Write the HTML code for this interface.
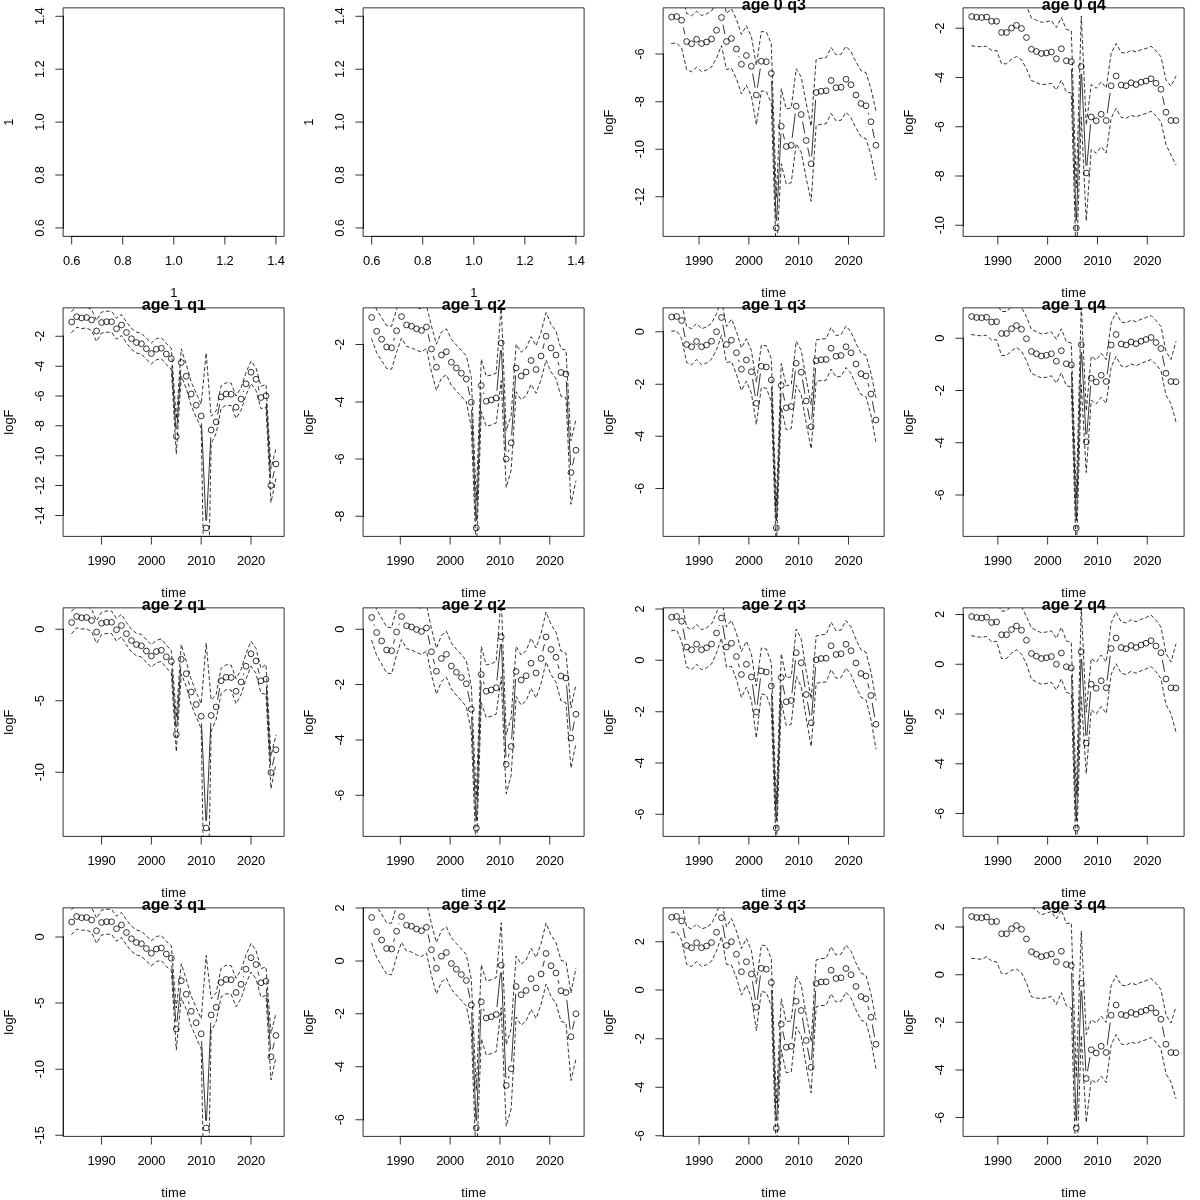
<!DOCTYPE html>
<html><head><meta charset="utf-8"><title>logF by age and quarter</title>
<style>
html,body{margin:0;padding:0;background:#fff;}
body{width:1200px;height:1200px;overflow:hidden;}
svg{display:block;}
text{font-family:"Liberation Sans",Arial,Helvetica,sans-serif;font-size:12.9px;fill:#000;}
.t{font-weight:bold;font-size:16px;}
.k{letter-spacing:-0.17px;}
.x{letter-spacing:0.16px;}
.ln{stroke:#000;stroke-width:0.8;fill:none;stroke-linecap:round;stroke-linejoin:round;}
.da{stroke:#000;stroke-width:0.8;fill:none;stroke-linecap:round;stroke-linejoin:round;stroke-dasharray:3.1 3.1;}
.pt{stroke:#000;stroke-width:0.8;fill:none;}
</style></head><body>
<svg width="1200" height="1200" viewBox="0 0 1200 1200">

<defs><clipPath id="pc"><rect x="63.5" y="7.85" width="220.6" height="228.55"/></clipPath>
<clipPath id="fc"><rect x="0" y="0" width="300" height="300"/></clipPath></defs>

<g transform="translate(0 0)">
<rect class="ln" x="63.5" y="7.85" width="220.6" height="228.55"/>
<path class="ln" d="M71.67 236.4H275.93M71.67 236.4v7.75M122.74 236.4v7.75M173.8 236.4v7.75M224.86 236.4v7.75M275.93 236.4v7.75M63.5 16.31V227.94M63.5 227.94h-7.75M63.5 175.03h-7.75M63.5 122.12h-7.75M63.5 69.22h-7.75M63.5 16.31h-7.75"/>
<text class="k" x="71.67" y="264.8" text-anchor="middle">0.6</text>
<text class="k" x="122.74" y="264.8" text-anchor="middle">0.8</text>
<text class="k" x="173.8" y="264.8" text-anchor="middle">1.0</text>
<text class="k" x="224.86" y="264.8" text-anchor="middle">1.2</text>
<text class="k" x="275.93" y="264.8" text-anchor="middle">1.4</text>
<text class="k" transform="translate(44.1 227.94) rotate(-90)" text-anchor="middle">0.6</text>
<text class="k" transform="translate(44.1 175.03) rotate(-90)" text-anchor="middle">0.8</text>
<text class="k" transform="translate(44.1 122.12) rotate(-90)" text-anchor="middle">1.0</text>
<text class="k" transform="translate(44.1 69.22) rotate(-90)" text-anchor="middle">1.2</text>
<text class="k" transform="translate(44.1 16.31) rotate(-90)" text-anchor="middle">1.4</text>
<text class="x" x="173.8" y="296.7" text-anchor="middle">1</text>
<text transform="translate(13 122.12) rotate(-90)" text-anchor="middle">1</text>
</g>
<g transform="translate(300 0)">
<rect class="ln" x="63.5" y="7.85" width="220.6" height="228.55"/>
<path class="ln" d="M71.67 236.4H275.93M71.67 236.4v7.75M122.74 236.4v7.75M173.8 236.4v7.75M224.86 236.4v7.75M275.93 236.4v7.75M63.5 16.31V227.94M63.5 227.94h-7.75M63.5 175.03h-7.75M63.5 122.12h-7.75M63.5 69.22h-7.75M63.5 16.31h-7.75"/>
<text class="k" x="71.67" y="264.8" text-anchor="middle">0.6</text>
<text class="k" x="122.74" y="264.8" text-anchor="middle">0.8</text>
<text class="k" x="173.8" y="264.8" text-anchor="middle">1.0</text>
<text class="k" x="224.86" y="264.8" text-anchor="middle">1.2</text>
<text class="k" x="275.93" y="264.8" text-anchor="middle">1.4</text>
<text class="k" transform="translate(44.1 227.94) rotate(-90)" text-anchor="middle">0.6</text>
<text class="k" transform="translate(44.1 175.03) rotate(-90)" text-anchor="middle">0.8</text>
<text class="k" transform="translate(44.1 122.12) rotate(-90)" text-anchor="middle">1.0</text>
<text class="k" transform="translate(44.1 69.22) rotate(-90)" text-anchor="middle">1.2</text>
<text class="k" transform="translate(44.1 16.31) rotate(-90)" text-anchor="middle">1.4</text>
<text class="x" x="173.8" y="296.7" text-anchor="middle">1</text>
<text transform="translate(13 122.12) rotate(-90)" text-anchor="middle">1</text>
</g>
<g transform="translate(600 0)">
<rect class="ln" x="63.5" y="7.85" width="220.6" height="228.55"/>
<path class="ln" d="M99.07 236.4H248.53M99.07 236.4v7.75M148.89 236.4v7.75M198.71 236.4v7.75M248.53 236.4v7.75M63.5 54V196.75M63.5 54h-7.75M63.5 101.75h-7.75M63.5 149.25h-7.75M63.5 196.75h-7.75"/>
<text class="k" x="99.07" y="264.8" text-anchor="middle">1990</text>
<text class="k" x="148.89" y="264.8" text-anchor="middle">2000</text>
<text class="k" x="198.71" y="264.8" text-anchor="middle">2010</text>
<text class="k" x="248.53" y="264.8" text-anchor="middle">2020</text>
<text class="k" transform="translate(44.1 54) rotate(-90)" text-anchor="middle">-6</text>
<text class="k" transform="translate(44.1 101.75) rotate(-90)" text-anchor="middle">-8</text>
<text class="k" transform="translate(44.1 149.25) rotate(-90)" text-anchor="middle">-10</text>
<text class="k" transform="translate(44.1 196.75) rotate(-90)" text-anchor="middle">-12</text>
<text class="x" x="173.8" y="296.7" text-anchor="middle">time</text>
<text transform="translate(13 122.12) rotate(-90)" text-anchor="middle">logF</text>
<text class="t" x="173.8" y="9.9" text-anchor="middle" clip-path="url(#fc)">age 0 q3</text>
<g clip-path="url(#pc)">
<path class="ln" d="M83.4 27.8L84.85 33.95M123.06 25.09L124.9 33.91M138.84 56.37L139.01 56.88M152.7 73.89L155.04 87.36M157.49 87.33L160.21 68.92M171.56 81.25L176.04 220.25M176.67 220.26L180.89 133.99M183.12 133.78L184.4 138.97M192.22 137.56L195.24 113.94M202.66 122.11L204.72 132.89M207.81 148.08L209.54 156.17M211.71 156.02L215.61 100.23M268.27 113.15L268.64 114.35M272.55 129.33L274.32 137.67"/>
<polyline class="da" points="71.67,43.5 76.65,43 81.63,48.25 86.62,69.5 91.6,71.75 96.58,67.25 101.56,71.5 106.54,70 111.53,67 116.51,58.25 121.49,45.5 126.47,69.5 131.45,68.25 136.44,78.75 141.42,94 146.4,85.25 151.38,96 156.36,124.75 161.35,91 166.33,91.5 171.31,103.25 176.29,258 181.27,163.75 186.25,184 191.24,182.75 196.22,143.75 201.2,152 206.18,178 211.16,201.25 216.15,125.5 221.13,124.25 226.11,123.75 231.09,113.5 236.07,120.75 241.06,120.25 246.04,112.25 251.02,117.75 256,128 260.98,136.5 265.97,138.75 270.95,154.75 275.93,179.75"/>
<polyline class="da" points="71.67,-9.5 76.65,-10 81.63,-7.75 86.62,13.5 91.6,15.75 96.58,11.25 101.56,15.5 106.54,14 111.53,11 116.51,2.25 121.49,-10.5 126.47,13.5 131.45,8.75 136.44,19.25 141.42,34.5 146.4,25.75 151.38,36.5 156.36,65.25 161.35,31.5 166.33,32 171.31,43.75 176.29,198 181.27,88.75 186.25,109 191.24,107.75 196.22,68.75 201.2,77 206.18,103 211.16,126.25 216.15,59.5 221.13,58.25 226.11,57.75 231.09,47.5 236.07,54.75 241.06,54.25 246.04,46.25 251.02,51.75 256,62 260.98,70.5 265.97,72.75 270.95,88.75 275.93,110.75"/>
<circle class="pt" cx="71.67" cy="17" r="2.9"/>
<circle class="pt" cx="76.65" cy="16.5" r="2.9"/>
<circle class="pt" cx="81.63" cy="20.25" r="2.9"/>
<circle class="pt" cx="86.62" cy="41.5" r="2.9"/>
<circle class="pt" cx="91.6" cy="43.75" r="2.9"/>
<circle class="pt" cx="96.58" cy="39.25" r="2.9"/>
<circle class="pt" cx="101.56" cy="43.5" r="2.9"/>
<circle class="pt" cx="106.54" cy="42" r="2.9"/>
<circle class="pt" cx="111.53" cy="39" r="2.9"/>
<circle class="pt" cx="116.51" cy="30.25" r="2.9"/>
<circle class="pt" cx="121.49" cy="17.5" r="2.9"/>
<circle class="pt" cx="126.47" cy="41.5" r="2.9"/>
<circle class="pt" cx="131.45" cy="38.5" r="2.9"/>
<circle class="pt" cx="136.44" cy="49" r="2.9"/>
<circle class="pt" cx="141.42" cy="64.25" r="2.9"/>
<circle class="pt" cx="146.4" cy="55.5" r="2.9"/>
<circle class="pt" cx="151.38" cy="66.25" r="2.9"/>
<circle class="pt" cx="156.36" cy="95" r="2.9"/>
<circle class="pt" cx="161.35" cy="61.25" r="2.9"/>
<circle class="pt" cx="166.33" cy="61.75" r="2.9"/>
<circle class="pt" cx="171.31" cy="73.5" r="2.9"/>
<circle class="pt" cx="176.29" cy="228" r="2.9"/>
<circle class="pt" cx="181.27" cy="126.25" r="2.9"/>
<circle class="pt" cx="186.25" cy="146.5" r="2.9"/>
<circle class="pt" cx="191.24" cy="145.25" r="2.9"/>
<circle class="pt" cx="196.22" cy="106.25" r="2.9"/>
<circle class="pt" cx="201.2" cy="114.5" r="2.9"/>
<circle class="pt" cx="206.18" cy="140.5" r="2.9"/>
<circle class="pt" cx="211.16" cy="163.75" r="2.9"/>
<circle class="pt" cx="216.15" cy="92.5" r="2.9"/>
<circle class="pt" cx="221.13" cy="91.25" r="2.9"/>
<circle class="pt" cx="226.11" cy="90.75" r="2.9"/>
<circle class="pt" cx="231.09" cy="80.5" r="2.9"/>
<circle class="pt" cx="236.07" cy="87.75" r="2.9"/>
<circle class="pt" cx="241.06" cy="87.25" r="2.9"/>
<circle class="pt" cx="246.04" cy="79.25" r="2.9"/>
<circle class="pt" cx="251.02" cy="84.75" r="2.9"/>
<circle class="pt" cx="256" cy="95" r="2.9"/>
<circle class="pt" cx="260.98" cy="103.5" r="2.9"/>
<circle class="pt" cx="265.97" cy="105.75" r="2.9"/>
<circle class="pt" cx="270.95" cy="121.75" r="2.9"/>
<circle class="pt" cx="275.93" cy="145.25" r="2.9"/>
</g>
</g>
<g transform="translate(900 0)">
<rect class="ln" x="63.5" y="7.85" width="220.6" height="228.55"/>
<path class="ln" d="M97.83 236.4H247.28M97.83 236.4v7.75M147.64 236.4v7.75M197.46 236.4v7.75M247.28 236.4v7.75M63.5 28.25V225.25M63.5 28.25h-7.75M63.5 77.5h-7.75M63.5 126.75h-7.75M63.5 176h-7.75M63.5 225.25h-7.75"/>
<text class="k" x="97.83" y="264.8" text-anchor="middle">1990</text>
<text class="k" x="147.64" y="264.8" text-anchor="middle">2000</text>
<text class="k" x="197.46" y="264.8" text-anchor="middle">2010</text>
<text class="k" x="247.28" y="264.8" text-anchor="middle">2020</text>
<text class="k" transform="translate(44.1 28.25) rotate(-90)" text-anchor="middle">-2</text>
<text class="k" transform="translate(44.1 77.5) rotate(-90)" text-anchor="middle">-4</text>
<text class="k" transform="translate(44.1 126.75) rotate(-90)" text-anchor="middle">-6</text>
<text class="k" transform="translate(44.1 176) rotate(-90)" text-anchor="middle">-8</text>
<text class="k" transform="translate(44.1 225.25) rotate(-90)" text-anchor="middle">-10</text>
<text class="x" x="173.8" y="296.7" text-anchor="middle">time</text>
<text transform="translate(13 122.12) rotate(-90)" text-anchor="middle">logF</text>
<text class="t" x="173.8" y="9.9" text-anchor="middle" clip-path="url(#fc)">age 0 q4</text>
<g clip-path="url(#pc)">
<path class="ln" d="M171.54 69.5L176.06 220.25M176.53 220.25L181.03 74.25M181.64 74.24L185.89 165.26M186.94 165.28L190.55 124.72M207.28 112.83L210.06 93.42M262.62 96.82L264.33 104.68"/>
<polyline class="da" points="71.67,45.75 76.65,46.5 81.63,46.75 86.62,46.25 91.6,50.5 96.58,50.5 101.56,63.75 106.54,63.75 111.53,59.25 116.51,56.5 121.49,59.75 126.47,68.75 131.45,80.5 136.44,82.75 141.42,84.75 146.4,84.25 151.38,83.25 156.36,90 161.35,80 166.33,92 171.31,93 176.29,268 181.27,117 186.25,221 191.24,149.5 196.22,153.25 201.2,146.75 206.18,153 211.16,118.25 216.15,108.5 221.13,117.5 226.11,118.25 231.09,115.25 236.07,117 241.06,114.75 246.04,113.5 251.02,111.25 256,115.75 260.98,121.75 265.97,144.75 270.95,154.75 275.93,164.75"/>
<polyline class="da" points="71.67,-12.75 76.65,-12 81.63,-11.75 86.62,-12.25 91.6,-8 96.58,-8 101.56,1.25 106.54,1.25 111.53,-3.25 116.51,-6 121.49,-2.75 126.47,6.25 131.45,18 136.44,20.25 141.42,22.25 146.4,21.75 151.38,20.75 156.36,27.5 161.35,17.5 166.33,29.5 171.31,30.5 176.29,188 181.27,16 186.25,125 191.24,84.5 196.22,88.25 201.2,81.75 206.18,88 211.16,53.25 216.15,43.5 221.13,52.5 226.11,53.25 231.09,50.25 236.07,52 241.06,49.75 246.04,48.5 251.02,46.25 256,50.75 260.98,56.75 265.97,79.75 270.95,86.25 275.93,76.25"/>
<circle class="pt" cx="71.67" cy="16.5" r="2.9"/>
<circle class="pt" cx="76.65" cy="17.25" r="2.9"/>
<circle class="pt" cx="81.63" cy="17.5" r="2.9"/>
<circle class="pt" cx="86.62" cy="17" r="2.9"/>
<circle class="pt" cx="91.6" cy="21.25" r="2.9"/>
<circle class="pt" cx="96.58" cy="21.25" r="2.9"/>
<circle class="pt" cx="101.56" cy="32.5" r="2.9"/>
<circle class="pt" cx="106.54" cy="32.5" r="2.9"/>
<circle class="pt" cx="111.53" cy="28" r="2.9"/>
<circle class="pt" cx="116.51" cy="25.25" r="2.9"/>
<circle class="pt" cx="121.49" cy="28.5" r="2.9"/>
<circle class="pt" cx="126.47" cy="37.5" r="2.9"/>
<circle class="pt" cx="131.45" cy="49.25" r="2.9"/>
<circle class="pt" cx="136.44" cy="51.5" r="2.9"/>
<circle class="pt" cx="141.42" cy="53.5" r="2.9"/>
<circle class="pt" cx="146.4" cy="53" r="2.9"/>
<circle class="pt" cx="151.38" cy="52" r="2.9"/>
<circle class="pt" cx="156.36" cy="58.75" r="2.9"/>
<circle class="pt" cx="161.35" cy="48.75" r="2.9"/>
<circle class="pt" cx="166.33" cy="60.75" r="2.9"/>
<circle class="pt" cx="171.31" cy="61.75" r="2.9"/>
<circle class="pt" cx="176.29" cy="228" r="2.9"/>
<circle class="pt" cx="181.27" cy="66.5" r="2.9"/>
<circle class="pt" cx="186.25" cy="173" r="2.9"/>
<circle class="pt" cx="191.24" cy="117" r="2.9"/>
<circle class="pt" cx="196.22" cy="120.75" r="2.9"/>
<circle class="pt" cx="201.2" cy="114.25" r="2.9"/>
<circle class="pt" cx="206.18" cy="120.5" r="2.9"/>
<circle class="pt" cx="211.16" cy="85.75" r="2.9"/>
<circle class="pt" cx="216.15" cy="76" r="2.9"/>
<circle class="pt" cx="221.13" cy="85" r="2.9"/>
<circle class="pt" cx="226.11" cy="85.75" r="2.9"/>
<circle class="pt" cx="231.09" cy="82.75" r="2.9"/>
<circle class="pt" cx="236.07" cy="84.5" r="2.9"/>
<circle class="pt" cx="241.06" cy="82.25" r="2.9"/>
<circle class="pt" cx="246.04" cy="81" r="2.9"/>
<circle class="pt" cx="251.02" cy="78.75" r="2.9"/>
<circle class="pt" cx="256" cy="83.25" r="2.9"/>
<circle class="pt" cx="260.98" cy="89.25" r="2.9"/>
<circle class="pt" cx="265.97" cy="112.25" r="2.9"/>
<circle class="pt" cx="270.95" cy="120.5" r="2.9"/>
<circle class="pt" cx="275.93" cy="120.5" r="2.9"/>
</g>
</g>
<g transform="translate(0 300)">
<rect class="ln" x="63.5" y="7.85" width="220.6" height="228.55"/>
<path class="ln" d="M101.56 236.4H251.02M101.56 236.4v7.75M151.38 236.4v7.75M201.2 236.4v7.75M251.02 236.4v7.75M63.5 36.25V215.5M63.5 36.25h-7.75M63.5 66.25h-7.75M63.5 96h-7.75M63.5 125.75h-7.75M63.5 155.75h-7.75M63.5 185.5h-7.75M63.5 215.5h-7.75"/>
<text class="k" x="101.56" y="264.8" text-anchor="middle">1990</text>
<text class="k" x="151.38" y="264.8" text-anchor="middle">2000</text>
<text class="k" x="201.2" y="264.8" text-anchor="middle">2010</text>
<text class="k" x="251.02" y="264.8" text-anchor="middle">2020</text>
<text class="k" transform="translate(44.1 36.25) rotate(-90)" text-anchor="middle">-2</text>
<text class="k" transform="translate(44.1 66.25) rotate(-90)" text-anchor="middle">-4</text>
<text class="k" transform="translate(44.1 96) rotate(-90)" text-anchor="middle">-6</text>
<text class="k" transform="translate(44.1 125.75) rotate(-90)" text-anchor="middle">-8</text>
<text class="k" transform="translate(44.1 155.75) rotate(-90)" text-anchor="middle">-10</text>
<text class="k" transform="translate(44.1 185.5) rotate(-90)" text-anchor="middle">-12</text>
<text class="k" transform="translate(44.1 215.5) rotate(-90)" text-anchor="middle">-14</text>
<text class="x" x="173.8" y="296.7" text-anchor="middle">time</text>
<text transform="translate(13 122.12) rotate(-90)" text-anchor="middle">logF</text>
<text class="t" x="173.8" y="9.9" text-anchor="middle" clip-path="url(#fc)">age 1 q1</text>
<g clip-path="url(#pc)">
<path class="ln" d="M171.8 66.48L175.8 128.77M176.81 128.77L180.75 70.23M188.35 83.71L189.14 86.54M201.55 123.74L205.84 220.26M206.58 220.26L210.77 137.74M217.66 114.4L219.61 104.6M243.46 91.63L243.63 91.12M258.04 86.73L258.94 90.02M266.4 103.49L270.52 177.76M272.7 177.95L274.18 171.55"/>
<polyline class="da" points="71.67,32.5 76.65,27.25 81.63,28.5 86.62,28 91.6,30.5 96.58,41.5 101.56,33 106.54,32.25 111.53,32.25 116.51,39.25 121.49,35.5 126.47,43 131.45,49.25 136.44,53 141.42,54.25 146.4,59.25 151.38,64 156.36,59.75 161.35,58.75 166.33,64.5 171.31,69.25 176.29,154 181.27,76.25 186.25,88.25 191.24,106 196.22,117.25 201.2,128 206.18,403 211.16,143.75 216.15,133.25 221.13,108.25 226.11,105.25 231.09,105.5 236.07,118.5 241.06,110.25 246.04,95 251.02,83.5 256,90.5 260.98,108.75 265.97,107 270.95,202.5 275.93,179"/>
<polyline class="da" points="71.67,11.5 76.65,6.25 81.63,7.5 86.62,7 91.6,9.5 96.58,20.5 101.56,12 106.54,11.25 111.53,11.25 116.51,18.25 121.49,14.5 126.47,22 131.45,28.25 136.44,32 141.42,33.25 146.4,38.25 151.38,43 156.36,38.75 161.35,37.75 166.33,43.5 171.31,48.25 176.29,119 181.27,48.75 186.25,64.25 191.24,82 196.22,93.25 201.2,104 206.18,53 211.16,116.25 216.15,110.75 221.13,85.75 226.11,82.75 231.09,83 236.07,96 241.06,87.75 246.04,72.5 251.02,61 256,68 260.98,86.25 265.97,84.5 270.95,168.5 275.93,149"/>
<circle class="pt" cx="71.67" cy="22" r="2.9"/>
<circle class="pt" cx="76.65" cy="16.75" r="2.9"/>
<circle class="pt" cx="81.63" cy="18" r="2.9"/>
<circle class="pt" cx="86.62" cy="17.5" r="2.9"/>
<circle class="pt" cx="91.6" cy="20" r="2.9"/>
<circle class="pt" cx="96.58" cy="31" r="2.9"/>
<circle class="pt" cx="101.56" cy="22.5" r="2.9"/>
<circle class="pt" cx="106.54" cy="21.75" r="2.9"/>
<circle class="pt" cx="111.53" cy="21.75" r="2.9"/>
<circle class="pt" cx="116.51" cy="28.75" r="2.9"/>
<circle class="pt" cx="121.49" cy="25" r="2.9"/>
<circle class="pt" cx="126.47" cy="32.5" r="2.9"/>
<circle class="pt" cx="131.45" cy="38.75" r="2.9"/>
<circle class="pt" cx="136.44" cy="42.5" r="2.9"/>
<circle class="pt" cx="141.42" cy="43.75" r="2.9"/>
<circle class="pt" cx="146.4" cy="48.75" r="2.9"/>
<circle class="pt" cx="151.38" cy="53.5" r="2.9"/>
<circle class="pt" cx="156.36" cy="49.25" r="2.9"/>
<circle class="pt" cx="161.35" cy="48.25" r="2.9"/>
<circle class="pt" cx="166.33" cy="54" r="2.9"/>
<circle class="pt" cx="171.31" cy="58.75" r="2.9"/>
<circle class="pt" cx="176.29" cy="136.5" r="2.9"/>
<circle class="pt" cx="181.27" cy="62.5" r="2.9"/>
<circle class="pt" cx="186.25" cy="76.25" r="2.9"/>
<circle class="pt" cx="191.24" cy="94" r="2.9"/>
<circle class="pt" cx="196.22" cy="105.25" r="2.9"/>
<circle class="pt" cx="201.2" cy="116" r="2.9"/>
<circle class="pt" cx="206.18" cy="228" r="2.9"/>
<circle class="pt" cx="211.16" cy="130" r="2.9"/>
<circle class="pt" cx="216.15" cy="122" r="2.9"/>
<circle class="pt" cx="221.13" cy="97" r="2.9"/>
<circle class="pt" cx="226.11" cy="94" r="2.9"/>
<circle class="pt" cx="231.09" cy="94.25" r="2.9"/>
<circle class="pt" cx="236.07" cy="107.25" r="2.9"/>
<circle class="pt" cx="241.06" cy="99" r="2.9"/>
<circle class="pt" cx="246.04" cy="83.75" r="2.9"/>
<circle class="pt" cx="251.02" cy="72.25" r="2.9"/>
<circle class="pt" cx="256" cy="79.25" r="2.9"/>
<circle class="pt" cx="260.98" cy="97.5" r="2.9"/>
<circle class="pt" cx="265.97" cy="95.75" r="2.9"/>
<circle class="pt" cx="270.95" cy="185.5" r="2.9"/>
<circle class="pt" cx="275.93" cy="164" r="2.9"/>
</g>
</g>
<g transform="translate(300 300)">
<rect class="ln" x="63.5" y="7.85" width="220.6" height="228.55"/>
<path class="ln" d="M100.32 236.4H249.77M100.32 236.4v7.75M150.14 236.4v7.75M199.96 236.4v7.75M249.77 236.4v7.75M63.5 44.5V216.25M63.5 44.5h-7.75M63.5 102h-7.75M63.5 159h-7.75M63.5 216.25h-7.75"/>
<text class="k" x="100.32" y="264.8" text-anchor="middle">1990</text>
<text class="k" x="150.14" y="264.8" text-anchor="middle">2000</text>
<text class="k" x="199.96" y="264.8" text-anchor="middle">2010</text>
<text class="k" x="249.77" y="264.8" text-anchor="middle">2020</text>
<text class="k" transform="translate(44.1 44.5) rotate(-90)" text-anchor="middle">-2</text>
<text class="k" transform="translate(44.1 102) rotate(-90)" text-anchor="middle">-4</text>
<text class="k" transform="translate(44.1 159) rotate(-90)" text-anchor="middle">-6</text>
<text class="k" transform="translate(44.1 216.25) rotate(-90)" text-anchor="middle">-8</text>
<text class="x" x="173.8" y="296.7" text-anchor="middle">time</text>
<text transform="translate(13 122.12) rotate(-90)" text-anchor="middle">logF</text>
<text class="t" x="173.8" y="9.9" text-anchor="middle" clip-path="url(#fc)">age 1 q2</text>
<g clip-path="url(#pc)">
<path class="ln" d="M93.78 40.31L94.4 38.19M128.18 34.56L129.74 41.44M133.49 56.48L134.39 59.77M167.95 86.58L169.69 94.67M171.62 109.99L175.98 220.26M176.56 220.25L181 93.25M183.61 92.89L183.92 93.86M196.92 90.28L200.5 50.72M201.53 50.74L205.85 151.26M208.45 151.59L208.89 150.16M211.68 135.02L215.63 75.73M242.95 48.49L244.14 43.76M258.12 62.45L258.86 65.05M266.36 81.74L270.56 164.76M272.64 164.94L274.24 157.81"/>
<polyline class="da" points="71.67,39 76.65,52.75 81.63,60.75 86.62,68.5 91.6,69.25 96.58,52.25 101.56,38 106.54,46.5 111.53,47.75 116.51,50.25 121.49,52 126.47,48.5 131.45,72 136.44,90.25 141.42,78 146.4,74.75 151.38,85.25 156.36,91 161.35,96.25 166.33,102 171.31,127.25 176.29,255.5 181.27,111.75 186.25,126.25 191.24,125 196.22,123 201.2,80.5 206.18,187.5 211.16,170 216.15,91.75 221.13,99.75 226.11,95.75 231.09,84.25 236.07,93.25 241.06,79.75 246.04,60 251.02,71.75 256,78.75 260.98,96.25 265.97,97.75 270.95,204.25 275.93,181"/>
<polyline class="da" points="71.67,-4 76.65,9.75 81.63,17.75 86.62,25.5 91.6,26.25 96.58,9.25 101.56,-5 106.54,3.5 111.53,4.75 116.51,7.25 121.49,9 126.47,5.5 131.45,26 136.44,44.25 141.42,32 146.4,28.75 151.38,39.25 156.36,45 161.35,50.25 166.33,56 171.31,77.25 176.29,200.5 181.27,59.25 186.25,76.25 191.24,75 196.22,73 201.2,5.5 206.18,130.5 211.16,115.5 216.15,44.25 221.13,52.25 226.11,48.25 231.09,36.75 236.07,45.75 241.06,32.25 246.04,12.5 251.02,24.25 256,31.25 260.98,48.75 265.97,50.25 270.95,140.75 275.93,119.5"/>
<circle class="pt" cx="71.67" cy="17.5" r="2.9"/>
<circle class="pt" cx="76.65" cy="31.25" r="2.9"/>
<circle class="pt" cx="81.63" cy="39.25" r="2.9"/>
<circle class="pt" cx="86.62" cy="47" r="2.9"/>
<circle class="pt" cx="91.6" cy="47.75" r="2.9"/>
<circle class="pt" cx="96.58" cy="30.75" r="2.9"/>
<circle class="pt" cx="101.56" cy="16.5" r="2.9"/>
<circle class="pt" cx="106.54" cy="25" r="2.9"/>
<circle class="pt" cx="111.53" cy="26.25" r="2.9"/>
<circle class="pt" cx="116.51" cy="28.75" r="2.9"/>
<circle class="pt" cx="121.49" cy="30.5" r="2.9"/>
<circle class="pt" cx="126.47" cy="27" r="2.9"/>
<circle class="pt" cx="131.45" cy="49" r="2.9"/>
<circle class="pt" cx="136.44" cy="67.25" r="2.9"/>
<circle class="pt" cx="141.42" cy="55" r="2.9"/>
<circle class="pt" cx="146.4" cy="51.75" r="2.9"/>
<circle class="pt" cx="151.38" cy="62.25" r="2.9"/>
<circle class="pt" cx="156.36" cy="68" r="2.9"/>
<circle class="pt" cx="161.35" cy="73.25" r="2.9"/>
<circle class="pt" cx="166.33" cy="79" r="2.9"/>
<circle class="pt" cx="171.31" cy="102.25" r="2.9"/>
<circle class="pt" cx="176.29" cy="228" r="2.9"/>
<circle class="pt" cx="181.27" cy="85.5" r="2.9"/>
<circle class="pt" cx="186.25" cy="101.25" r="2.9"/>
<circle class="pt" cx="191.24" cy="100" r="2.9"/>
<circle class="pt" cx="196.22" cy="98" r="2.9"/>
<circle class="pt" cx="201.2" cy="43" r="2.9"/>
<circle class="pt" cx="206.18" cy="159" r="2.9"/>
<circle class="pt" cx="211.16" cy="142.75" r="2.9"/>
<circle class="pt" cx="216.15" cy="68" r="2.9"/>
<circle class="pt" cx="221.13" cy="76" r="2.9"/>
<circle class="pt" cx="226.11" cy="72" r="2.9"/>
<circle class="pt" cx="231.09" cy="60.5" r="2.9"/>
<circle class="pt" cx="236.07" cy="69.5" r="2.9"/>
<circle class="pt" cx="241.06" cy="56" r="2.9"/>
<circle class="pt" cx="246.04" cy="36.25" r="2.9"/>
<circle class="pt" cx="251.02" cy="48" r="2.9"/>
<circle class="pt" cx="256" cy="55" r="2.9"/>
<circle class="pt" cx="260.98" cy="72.5" r="2.9"/>
<circle class="pt" cx="265.97" cy="74" r="2.9"/>
<circle class="pt" cx="270.95" cy="172.5" r="2.9"/>
<circle class="pt" cx="275.93" cy="150.25" r="2.9"/>
</g>
</g>
<g transform="translate(600 300)">
<rect class="ln" x="63.5" y="7.85" width="220.6" height="228.55"/>
<path class="ln" d="M99.07 236.4H248.53M99.07 236.4v7.75M148.89 236.4v7.75M198.71 236.4v7.75M248.53 236.4v7.75M63.5 31.75V188.5M63.5 31.75h-7.75M63.5 84.25h-7.75M63.5 136.25h-7.75M63.5 188.5h-7.75"/>
<text class="k" x="99.07" y="264.8" text-anchor="middle">1990</text>
<text class="k" x="148.89" y="264.8" text-anchor="middle">2000</text>
<text class="k" x="198.71" y="264.8" text-anchor="middle">2010</text>
<text class="k" x="248.53" y="264.8" text-anchor="middle">2020</text>
<text class="k" transform="translate(44.1 31.75) rotate(-90)" text-anchor="middle">0</text>
<text class="k" transform="translate(44.1 84.25) rotate(-90)" text-anchor="middle">-2</text>
<text class="k" transform="translate(44.1 136.25) rotate(-90)" text-anchor="middle">-4</text>
<text class="k" transform="translate(44.1 188.5) rotate(-90)" text-anchor="middle">-6</text>
<text class="x" x="173.8" y="296.7" text-anchor="middle">time</text>
<text transform="translate(13 122.12) rotate(-90)" text-anchor="middle">logF</text>
<text class="t" x="173.8" y="9.9" text-anchor="middle" clip-path="url(#fc)">age 1 q3</text>
<g clip-path="url(#pc)">
<path class="ln" d="M83.21 28.09L85.04 36.91M122.9 25.12L125.07 36.88M138.68 60.17L139.18 61.83M152.59 79.4L155.15 95.6M157.4 95.57L160.31 73.93M171.57 87.75L176.03 220.25M176.56 220.25L181 93.25M182.97 93.06L184.56 100.19M192.12 98.8L195.33 70.95M202.52 79.89L204.86 93.36M207.65 108.61L209.69 119.14M211.75 119.02L215.56 68.48M268.03 83.47L268.88 86.53M272.41 101.61L274.47 112.39"/>
<polyline class="da" points="71.67,31.25 76.65,30.75 81.63,38.5 86.62,62.5 91.6,64.75 96.58,59.5 101.56,64.75 106.54,63 111.53,59.25 116.51,49.75 121.49,35.5 126.47,62.5 131.45,61.5 136.44,74 141.42,90.5 146.4,81.25 151.38,93 156.36,124.5 161.35,87.5 166.33,88.25 171.31,101.25 176.29,250 181.27,107.5 186.25,129.75 191.24,128.5 196.22,85.25 201.2,94.25 206.18,123 211.16,148.75 216.15,81.5 221.13,80.5 226.11,80.25 231.09,69 236.07,77 241.06,76.25 246.04,67.5 251.02,73.5 256,84.75 260.98,94.5 265.97,96.75 270.95,114.75 275.93,142.5"/>
<polyline class="da" points="71.67,2.75 76.65,2.25 81.63,2.5 86.62,26.5 91.6,28.75 96.58,23.5 101.56,28.75 106.54,27 111.53,23.25 116.51,13.75 121.49,-0.5 126.47,26.5 131.45,19 136.44,31.5 141.42,48 146.4,38.75 151.38,50.5 156.36,82 161.35,45 166.33,45.75 171.31,58.75 176.29,206 181.27,63.5 186.25,85.75 191.24,84.5 196.22,41.25 201.2,50.25 206.18,79 211.16,104.75 216.15,40 221.13,39 226.11,38.75 231.09,27.5 236.07,35.5 241.06,34.75 246.04,26 251.02,32 256,43.25 260.98,53 265.97,55.25 270.95,73.25 275.93,97.5"/>
<circle class="pt" cx="71.67" cy="17" r="2.9"/>
<circle class="pt" cx="76.65" cy="16.5" r="2.9"/>
<circle class="pt" cx="81.63" cy="20.5" r="2.9"/>
<circle class="pt" cx="86.62" cy="44.5" r="2.9"/>
<circle class="pt" cx="91.6" cy="46.75" r="2.9"/>
<circle class="pt" cx="96.58" cy="41.5" r="2.9"/>
<circle class="pt" cx="101.56" cy="46.75" r="2.9"/>
<circle class="pt" cx="106.54" cy="45" r="2.9"/>
<circle class="pt" cx="111.53" cy="41.25" r="2.9"/>
<circle class="pt" cx="116.51" cy="31.75" r="2.9"/>
<circle class="pt" cx="121.49" cy="17.5" r="2.9"/>
<circle class="pt" cx="126.47" cy="44.5" r="2.9"/>
<circle class="pt" cx="131.45" cy="40.25" r="2.9"/>
<circle class="pt" cx="136.44" cy="52.75" r="2.9"/>
<circle class="pt" cx="141.42" cy="69.25" r="2.9"/>
<circle class="pt" cx="146.4" cy="60" r="2.9"/>
<circle class="pt" cx="151.38" cy="71.75" r="2.9"/>
<circle class="pt" cx="156.36" cy="103.25" r="2.9"/>
<circle class="pt" cx="161.35" cy="66.25" r="2.9"/>
<circle class="pt" cx="166.33" cy="67" r="2.9"/>
<circle class="pt" cx="171.31" cy="80" r="2.9"/>
<circle class="pt" cx="176.29" cy="228" r="2.9"/>
<circle class="pt" cx="181.27" cy="85.5" r="2.9"/>
<circle class="pt" cx="186.25" cy="107.75" r="2.9"/>
<circle class="pt" cx="191.24" cy="106.5" r="2.9"/>
<circle class="pt" cx="196.22" cy="63.25" r="2.9"/>
<circle class="pt" cx="201.2" cy="72.25" r="2.9"/>
<circle class="pt" cx="206.18" cy="101" r="2.9"/>
<circle class="pt" cx="211.16" cy="126.75" r="2.9"/>
<circle class="pt" cx="216.15" cy="60.75" r="2.9"/>
<circle class="pt" cx="221.13" cy="59.75" r="2.9"/>
<circle class="pt" cx="226.11" cy="59.5" r="2.9"/>
<circle class="pt" cx="231.09" cy="48.25" r="2.9"/>
<circle class="pt" cx="236.07" cy="56.25" r="2.9"/>
<circle class="pt" cx="241.06" cy="55.5" r="2.9"/>
<circle class="pt" cx="246.04" cy="46.75" r="2.9"/>
<circle class="pt" cx="251.02" cy="52.75" r="2.9"/>
<circle class="pt" cx="256" cy="64" r="2.9"/>
<circle class="pt" cx="260.98" cy="73.75" r="2.9"/>
<circle class="pt" cx="265.97" cy="76" r="2.9"/>
<circle class="pt" cx="270.95" cy="94" r="2.9"/>
<circle class="pt" cx="275.93" cy="120" r="2.9"/>
</g>
</g>
<g transform="translate(900 300)">
<rect class="ln" x="63.5" y="7.85" width="220.6" height="228.55"/>
<path class="ln" d="M97.83 236.4H247.28M97.83 236.4v7.75M147.64 236.4v7.75M197.46 236.4v7.75M247.28 236.4v7.75M63.5 38.25V195M63.5 38.25h-7.75M63.5 90.5h-7.75M63.5 142.75h-7.75M63.5 195h-7.75"/>
<text class="k" x="97.83" y="264.8" text-anchor="middle">1990</text>
<text class="k" x="147.64" y="264.8" text-anchor="middle">2000</text>
<text class="k" x="197.46" y="264.8" text-anchor="middle">2010</text>
<text class="k" x="247.28" y="264.8" text-anchor="middle">2020</text>
<text class="k" transform="translate(44.1 38.25) rotate(-90)" text-anchor="middle">0</text>
<text class="k" transform="translate(44.1 90.5) rotate(-90)" text-anchor="middle">-2</text>
<text class="k" transform="translate(44.1 142.75) rotate(-90)" text-anchor="middle">-4</text>
<text class="k" transform="translate(44.1 195) rotate(-90)" text-anchor="middle">-6</text>
<text class="x" x="173.8" y="296.7" text-anchor="middle">time</text>
<text transform="translate(13 122.12) rotate(-90)" text-anchor="middle">logF</text>
<text class="t" x="173.8" y="9.9" text-anchor="middle" clip-path="url(#fc)">age 1 q4</text>
<g clip-path="url(#pc)">
<path class="ln" d="M171.55 72.75L176.05 220.25M176.5 220.25L181.06 52.5M181.67 52.49L185.86 134.01M186.86 134.02L190.63 85.98M207.23 73.82L210.12 52.68M262.51 56.1L264.44 65.65"/>
<polyline class="da" points="71.67,34.5 76.65,35.5 81.63,35.75 86.62,35.25 91.6,40 96.58,39.75 101.56,55.5 106.54,55.5 111.53,50.75 116.51,47.5 121.49,51.25 126.47,60.75 131.45,73.5 136.44,75.75 141.42,78 146.4,77.25 151.38,75.75 156.36,83.25 161.35,72.75 166.33,85.75 171.31,87 176.29,258 181.27,84.75 186.25,172.5 191.24,100.25 196.22,104 201.2,97.25 206.18,103.5 211.16,67 216.15,56.5 221.13,66 226.11,67 231.09,64 236.07,65.75 241.06,63.25 246.04,61.5 251.02,59.5 256,64.5 260.98,70.5 265.97,95.25 270.95,103.5 275.93,121.75"/>
<polyline class="da" points="71.67,-1.5 76.65,-0.5 81.63,-0.25 86.62,-0.75 91.6,4 96.58,3.75 101.56,11.5 106.54,11.5 111.53,6.75 116.51,3.5 121.49,7.25 126.47,16.75 131.45,29.5 136.44,31.75 141.42,34 146.4,33.25 151.38,31.75 156.36,39.25 161.35,28.75 166.33,41.75 171.31,43 176.29,198 181.27,4.75 186.25,111 191.24,56.25 196.22,60 201.2,53.25 206.18,59.5 211.16,23 216.15,12.5 221.13,22 226.11,23 231.09,20 236.07,21.75 241.06,19.25 246.04,17.5 251.02,15.5 256,20.5 260.98,26.5 265.97,51.25 270.95,59.5 275.93,41.75"/>
<circle class="pt" cx="71.67" cy="16.5" r="2.9"/>
<circle class="pt" cx="76.65" cy="17.5" r="2.9"/>
<circle class="pt" cx="81.63" cy="17.75" r="2.9"/>
<circle class="pt" cx="86.62" cy="17.25" r="2.9"/>
<circle class="pt" cx="91.6" cy="22" r="2.9"/>
<circle class="pt" cx="96.58" cy="21.75" r="2.9"/>
<circle class="pt" cx="101.56" cy="33.5" r="2.9"/>
<circle class="pt" cx="106.54" cy="33.5" r="2.9"/>
<circle class="pt" cx="111.53" cy="28.75" r="2.9"/>
<circle class="pt" cx="116.51" cy="25.5" r="2.9"/>
<circle class="pt" cx="121.49" cy="29.25" r="2.9"/>
<circle class="pt" cx="126.47" cy="38.75" r="2.9"/>
<circle class="pt" cx="131.45" cy="51.5" r="2.9"/>
<circle class="pt" cx="136.44" cy="53.75" r="2.9"/>
<circle class="pt" cx="141.42" cy="56" r="2.9"/>
<circle class="pt" cx="146.4" cy="55.25" r="2.9"/>
<circle class="pt" cx="151.38" cy="53.75" r="2.9"/>
<circle class="pt" cx="156.36" cy="61.25" r="2.9"/>
<circle class="pt" cx="161.35" cy="50.75" r="2.9"/>
<circle class="pt" cx="166.33" cy="63.75" r="2.9"/>
<circle class="pt" cx="171.31" cy="65" r="2.9"/>
<circle class="pt" cx="176.29" cy="228" r="2.9"/>
<circle class="pt" cx="181.27" cy="44.75" r="2.9"/>
<circle class="pt" cx="186.25" cy="141.75" r="2.9"/>
<circle class="pt" cx="191.24" cy="78.25" r="2.9"/>
<circle class="pt" cx="196.22" cy="82" r="2.9"/>
<circle class="pt" cx="201.2" cy="75.25" r="2.9"/>
<circle class="pt" cx="206.18" cy="81.5" r="2.9"/>
<circle class="pt" cx="211.16" cy="45" r="2.9"/>
<circle class="pt" cx="216.15" cy="34.5" r="2.9"/>
<circle class="pt" cx="221.13" cy="44" r="2.9"/>
<circle class="pt" cx="226.11" cy="45" r="2.9"/>
<circle class="pt" cx="231.09" cy="42" r="2.9"/>
<circle class="pt" cx="236.07" cy="43.75" r="2.9"/>
<circle class="pt" cx="241.06" cy="41.25" r="2.9"/>
<circle class="pt" cx="246.04" cy="39.5" r="2.9"/>
<circle class="pt" cx="251.02" cy="37.5" r="2.9"/>
<circle class="pt" cx="256" cy="42.5" r="2.9"/>
<circle class="pt" cx="260.98" cy="48.5" r="2.9"/>
<circle class="pt" cx="265.97" cy="73.25" r="2.9"/>
<circle class="pt" cx="270.95" cy="81.5" r="2.9"/>
<circle class="pt" cx="275.93" cy="81.75" r="2.9"/>
</g>
</g>
<g transform="translate(0 600)">
<rect class="ln" x="63.5" y="7.85" width="220.6" height="228.55"/>
<path class="ln" d="M101.56 236.4H251.02M101.56 236.4v7.75M151.38 236.4v7.75M201.2 236.4v7.75M251.02 236.4v7.75M63.5 29.25V172.25M63.5 29.25h-7.75M63.5 100.75h-7.75M63.5 172.25h-7.75"/>
<text class="k" x="101.56" y="264.8" text-anchor="middle">1990</text>
<text class="k" x="151.38" y="264.8" text-anchor="middle">2000</text>
<text class="k" x="201.2" y="264.8" text-anchor="middle">2010</text>
<text class="k" x="251.02" y="264.8" text-anchor="middle">2020</text>
<text class="k" transform="translate(44.1 29.25) rotate(-90)" text-anchor="middle">0</text>
<text class="k" transform="translate(44.1 100.75) rotate(-90)" text-anchor="middle">-5</text>
<text class="k" transform="translate(44.1 172.25) rotate(-90)" text-anchor="middle">-10</text>
<text class="x" x="173.8" y="296.7" text-anchor="middle">time</text>
<text transform="translate(13 122.12) rotate(-90)" text-anchor="middle">logF</text>
<text class="t" x="173.8" y="9.9" text-anchor="middle" clip-path="url(#fc)">age 2 q1</text>
<g clip-path="url(#pc)">
<path class="ln" d="M171.84 69.23L175.76 126.77M176.8 126.77L180.76 66.98M188.3 81.23L189.2 84.52M201.55 123.99L205.84 220.26M206.53 220.26L210.82 123.24M217.59 99.39L219.68 88.36M243.39 74.61L243.7 73.64M257.9 68.51L259.09 73.24M266.38 86.99L270.53 164.76M272.61 164.93L274.27 157.32"/>
<polyline class="da" points="71.67,33.75 76.65,27.75 81.63,29 86.62,28.75 91.6,31.75 96.58,43.25 101.56,34.5 106.54,33.5 111.53,33.5 116.51,41 121.49,36.75 126.47,45 131.45,51.75 136.44,55.75 141.42,57 146.4,62.25 151.38,67.25 156.36,62.75 161.35,61.5 166.33,68 171.31,72.75 176.29,151.75 181.27,74 186.25,86.25 191.24,104.5 196.22,117 201.2,128.75 206.18,413 211.16,131 216.15,119.5 221.13,93.25 226.11,89.75 231.09,90 236.07,103.75 241.06,94.5 246.04,78.75 251.02,66.25 256,73.5 260.98,93.25 265.97,94.25 270.95,188.75 275.93,164.25"/>
<polyline class="da" points="71.67,11.25 76.65,5.25 81.63,6.5 86.62,6.25 91.6,9.25 96.58,20.75 101.56,12 106.54,11 111.53,11 116.51,18.5 121.49,14.25 126.47,22.5 131.45,29.25 136.44,33.25 141.42,34.5 146.4,39.75 151.38,44.75 156.36,40.25 161.35,39 166.33,45.5 171.31,50.25 176.29,117.25 181.27,44.5 186.25,61.25 191.24,79.5 196.22,92 201.2,103.75 206.18,43 211.16,100 216.15,94.5 221.13,68.25 226.11,64.75 231.09,65 236.07,78.75 241.06,69.5 246.04,53.75 251.02,41.25 256,48.5 260.98,68.25 265.97,64.25 270.95,156.25 275.93,135.25"/>
<circle class="pt" cx="71.67" cy="22.5" r="2.9"/>
<circle class="pt" cx="76.65" cy="16.5" r="2.9"/>
<circle class="pt" cx="81.63" cy="17.75" r="2.9"/>
<circle class="pt" cx="86.62" cy="17.5" r="2.9"/>
<circle class="pt" cx="91.6" cy="20.5" r="2.9"/>
<circle class="pt" cx="96.58" cy="32" r="2.9"/>
<circle class="pt" cx="101.56" cy="23.25" r="2.9"/>
<circle class="pt" cx="106.54" cy="22.25" r="2.9"/>
<circle class="pt" cx="111.53" cy="22.25" r="2.9"/>
<circle class="pt" cx="116.51" cy="29.75" r="2.9"/>
<circle class="pt" cx="121.49" cy="25.5" r="2.9"/>
<circle class="pt" cx="126.47" cy="33.75" r="2.9"/>
<circle class="pt" cx="131.45" cy="40.5" r="2.9"/>
<circle class="pt" cx="136.44" cy="44.5" r="2.9"/>
<circle class="pt" cx="141.42" cy="45.75" r="2.9"/>
<circle class="pt" cx="146.4" cy="51" r="2.9"/>
<circle class="pt" cx="151.38" cy="56" r="2.9"/>
<circle class="pt" cx="156.36" cy="51.5" r="2.9"/>
<circle class="pt" cx="161.35" cy="50.25" r="2.9"/>
<circle class="pt" cx="166.33" cy="56.75" r="2.9"/>
<circle class="pt" cx="171.31" cy="61.5" r="2.9"/>
<circle class="pt" cx="176.29" cy="134.5" r="2.9"/>
<circle class="pt" cx="181.27" cy="59.25" r="2.9"/>
<circle class="pt" cx="186.25" cy="73.75" r="2.9"/>
<circle class="pt" cx="191.24" cy="92" r="2.9"/>
<circle class="pt" cx="196.22" cy="104.5" r="2.9"/>
<circle class="pt" cx="201.2" cy="116.25" r="2.9"/>
<circle class="pt" cx="206.18" cy="228" r="2.9"/>
<circle class="pt" cx="211.16" cy="115.5" r="2.9"/>
<circle class="pt" cx="216.15" cy="107" r="2.9"/>
<circle class="pt" cx="221.13" cy="80.75" r="2.9"/>
<circle class="pt" cx="226.11" cy="77.25" r="2.9"/>
<circle class="pt" cx="231.09" cy="77.5" r="2.9"/>
<circle class="pt" cx="236.07" cy="91.25" r="2.9"/>
<circle class="pt" cx="241.06" cy="82" r="2.9"/>
<circle class="pt" cx="246.04" cy="66.25" r="2.9"/>
<circle class="pt" cx="251.02" cy="53.75" r="2.9"/>
<circle class="pt" cx="256" cy="61" r="2.9"/>
<circle class="pt" cx="260.98" cy="80.75" r="2.9"/>
<circle class="pt" cx="265.97" cy="79.25" r="2.9"/>
<circle class="pt" cx="270.95" cy="172.5" r="2.9"/>
<circle class="pt" cx="275.93" cy="149.75" r="2.9"/>
</g>
</g>
<g transform="translate(300 600)">
<rect class="ln" x="63.5" y="7.85" width="220.6" height="228.55"/>
<path class="ln" d="M100.32 236.4H249.77M100.32 236.4v7.75M150.14 236.4v7.75M199.96 236.4v7.75M249.77 236.4v7.75M63.5 29.25V195.25M63.5 29.25h-7.75M63.5 84.5h-7.75M63.5 140h-7.75M63.5 195.25h-7.75"/>
<text class="k" x="100.32" y="264.8" text-anchor="middle">1990</text>
<text class="k" x="150.14" y="264.8" text-anchor="middle">2000</text>
<text class="k" x="199.96" y="264.8" text-anchor="middle">2010</text>
<text class="k" x="249.77" y="264.8" text-anchor="middle">2020</text>
<text class="k" transform="translate(44.1 29.25) rotate(-90)" text-anchor="middle">0</text>
<text class="k" transform="translate(44.1 84.5) rotate(-90)" text-anchor="middle">-2</text>
<text class="k" transform="translate(44.1 140) rotate(-90)" text-anchor="middle">-4</text>
<text class="k" transform="translate(44.1 195.25) rotate(-90)" text-anchor="middle">-6</text>
<text class="x" x="173.8" y="296.7" text-anchor="middle">time</text>
<text transform="translate(13 122.12) rotate(-90)" text-anchor="middle">logF</text>
<text class="t" x="173.8" y="9.9" text-anchor="middle" clip-path="url(#fc)">age 2 q2</text>
<g clip-path="url(#pc)">
<path class="ln" d="M74.11 24.85L74.21 25.15M93.59 43.26L94.59 39.49M98.95 24.62L99.19 23.88M128.06 35.58L129.86 44.17M133.37 59.26L134.52 63.74M167.81 91.36L169.82 101.64M171.63 116.99L175.97 220.26M176.54 220.25L181.02 82.25M183.48 81.93L184.05 83.82M196.97 80.04L200.45 44.46M201.5 44.49L205.88 156.51M208.28 156.79L209.07 153.96M211.68 138.77L215.63 79.23M242.81 50.95L244.29 44.55M257.99 64.74L258.99 68.51M266.61 85.72L270.31 130.28M272.54 130.42L274.34 121.83"/>
<polyline class="da" points="71.67,40.5 76.65,55.5 81.63,64 86.62,73 91.6,73.75 96.58,55 101.56,39.5 106.54,48.75 111.53,50 116.51,52.5 121.49,54.5 126.47,51 131.45,74.75 136.44,94.25 141.42,81.5 146.4,77.25 151.38,89 156.36,95.25 161.35,100.5 166.33,106.75 171.31,132.25 176.29,256.75 181.27,102.5 186.25,117.5 191.24,116.25 196.22,114 201.2,76.75 206.18,193.75 211.16,175.25 216.15,96.5 221.13,105 226.11,100.75 231.09,88.25 236.07,98 241.06,83.5 246.04,62 251.02,74.5 256,82.25 260.98,101 265.97,103 270.95,168 275.93,143.75"/>
<polyline class="da" points="71.67,-5.5 76.65,9.5 81.63,18 86.62,27 91.6,27.75 96.58,9 101.56,-6.5 106.54,2.75 111.53,4 116.51,6.5 121.49,8.5 126.47,5 131.45,28.75 136.44,48.25 141.42,35.5 146.4,31.25 151.38,43 156.36,49.25 161.35,54.5 166.33,60.75 171.31,86.25 176.29,199.25 181.27,46.5 186.25,65 191.24,63.75 196.22,61.5 201.2,-3.25 206.18,134.75 211.16,117.75 216.15,46.5 221.13,55 226.11,50.75 231.09,38.25 236.07,48 241.06,33.5 246.04,12 251.02,24.5 256,32.25 260.98,51 265.97,53 270.95,108 275.93,84.75"/>
<circle class="pt" cx="71.67" cy="17.5" r="2.9"/>
<circle class="pt" cx="76.65" cy="32.5" r="2.9"/>
<circle class="pt" cx="81.63" cy="41" r="2.9"/>
<circle class="pt" cx="86.62" cy="50" r="2.9"/>
<circle class="pt" cx="91.6" cy="50.75" r="2.9"/>
<circle class="pt" cx="96.58" cy="32" r="2.9"/>
<circle class="pt" cx="101.56" cy="16.5" r="2.9"/>
<circle class="pt" cx="106.54" cy="25.75" r="2.9"/>
<circle class="pt" cx="111.53" cy="27" r="2.9"/>
<circle class="pt" cx="116.51" cy="29.5" r="2.9"/>
<circle class="pt" cx="121.49" cy="31.5" r="2.9"/>
<circle class="pt" cx="126.47" cy="28" r="2.9"/>
<circle class="pt" cx="131.45" cy="51.75" r="2.9"/>
<circle class="pt" cx="136.44" cy="71.25" r="2.9"/>
<circle class="pt" cx="141.42" cy="58.5" r="2.9"/>
<circle class="pt" cx="146.4" cy="54.25" r="2.9"/>
<circle class="pt" cx="151.38" cy="66" r="2.9"/>
<circle class="pt" cx="156.36" cy="72.25" r="2.9"/>
<circle class="pt" cx="161.35" cy="77.5" r="2.9"/>
<circle class="pt" cx="166.33" cy="83.75" r="2.9"/>
<circle class="pt" cx="171.31" cy="109.25" r="2.9"/>
<circle class="pt" cx="176.29" cy="228" r="2.9"/>
<circle class="pt" cx="181.27" cy="74.5" r="2.9"/>
<circle class="pt" cx="186.25" cy="91.25" r="2.9"/>
<circle class="pt" cx="191.24" cy="90" r="2.9"/>
<circle class="pt" cx="196.22" cy="87.75" r="2.9"/>
<circle class="pt" cx="201.2" cy="36.75" r="2.9"/>
<circle class="pt" cx="206.18" cy="164.25" r="2.9"/>
<circle class="pt" cx="211.16" cy="146.5" r="2.9"/>
<circle class="pt" cx="216.15" cy="71.5" r="2.9"/>
<circle class="pt" cx="221.13" cy="80" r="2.9"/>
<circle class="pt" cx="226.11" cy="75.75" r="2.9"/>
<circle class="pt" cx="231.09" cy="63.25" r="2.9"/>
<circle class="pt" cx="236.07" cy="73" r="2.9"/>
<circle class="pt" cx="241.06" cy="58.5" r="2.9"/>
<circle class="pt" cx="246.04" cy="37" r="2.9"/>
<circle class="pt" cx="251.02" cy="49.5" r="2.9"/>
<circle class="pt" cx="256" cy="57.25" r="2.9"/>
<circle class="pt" cx="260.98" cy="76" r="2.9"/>
<circle class="pt" cx="265.97" cy="78" r="2.9"/>
<circle class="pt" cx="270.95" cy="138" r="2.9"/>
<circle class="pt" cx="275.93" cy="114.25" r="2.9"/>
</g>
</g>
<g transform="translate(600 600)">
<rect class="ln" x="63.5" y="7.85" width="220.6" height="228.55"/>
<path class="ln" d="M99.07 236.4H248.53M99.07 236.4v7.75M148.89 236.4v7.75M198.71 236.4v7.75M248.53 236.4v7.75M63.5 9V214.25M63.5 9h-7.75M63.5 60.25h-7.75M63.5 111.75h-7.75M63.5 163h-7.75M63.5 214.25h-7.75"/>
<text class="k" x="99.07" y="264.8" text-anchor="middle">1990</text>
<text class="k" x="148.89" y="264.8" text-anchor="middle">2000</text>
<text class="k" x="198.71" y="264.8" text-anchor="middle">2010</text>
<text class="k" x="248.53" y="264.8" text-anchor="middle">2020</text>
<text class="k" transform="translate(44.1 9) rotate(-90)" text-anchor="middle">2</text>
<text class="k" transform="translate(44.1 60.25) rotate(-90)" text-anchor="middle">0</text>
<text class="k" transform="translate(44.1 111.75) rotate(-90)" text-anchor="middle">-2</text>
<text class="k" transform="translate(44.1 163) rotate(-90)" text-anchor="middle">-4</text>
<text class="k" transform="translate(44.1 214.25) rotate(-90)" text-anchor="middle">-6</text>
<text class="x" x="173.8" y="296.7" text-anchor="middle">time</text>
<text transform="translate(13 122.12) rotate(-90)" text-anchor="middle">logF</text>
<text class="t" x="173.8" y="9.9" text-anchor="middle" clip-path="url(#fc)">age 2 q3</text>
<g clip-path="url(#pc)">
<path class="ln" d="M83.11 28.86L85.14 39.39M118.95 25.65L119.05 25.35M122.8 25.64L125.16 39.36M138.5 63.97L139.35 67.03M152.47 84.67L155.27 104.33M157.3 104.31L160.41 78.69M171.58 93.75L176.02 220.25M176.55 220.25L181.02 85.25M182.83 85.09L184.7 94.16M192.04 92.79L195.41 60.46M202.4 70.41L204.98 86.84M207.53 102.13L209.82 115.12M211.78 115.02L215.54 67.48M267.88 83.51L269.03 87.99M272.27 103.14L274.61 116.61"/>
<polyline class="da" points="71.67,30.75 76.65,30 81.63,41.25 86.62,67 91.6,69.75 96.58,64.25 101.56,69.75 106.54,67.75 111.53,64 116.51,53 121.49,38 126.47,67 131.45,66.25 136.44,79.5 141.42,97.5 146.4,87.25 151.38,100 156.36,138 161.35,94 166.33,95 171.31,109 176.29,251.75 181.27,101.25 186.25,125.5 191.24,124.25 196.22,76.5 201.2,86.5 206.18,118.25 211.16,146.5 216.15,83.5 221.13,82.25 226.11,82 231.09,69.5 236.07,78.25 241.06,77.5 246.04,68 251.02,74.5 256,86.75 260.98,97.25 265.97,99.75 270.95,119.25 275.93,148.75"/>
<polyline class="da" points="71.67,3.75 76.65,3 81.63,1.25 86.62,27 91.6,29.75 96.58,24.25 101.56,29.75 106.54,27.75 111.53,24 116.51,13 121.49,-2 126.47,27 131.45,20.25 136.44,33.5 141.42,51.5 146.4,41.25 151.38,54 156.36,86 161.35,48 166.33,49 171.31,63 176.29,204.25 181.27,53.75 186.25,78 191.24,76.75 196.22,29 201.2,39 206.18,70.75 211.16,99 216.15,36 221.13,34.75 226.11,34.5 231.09,22 236.07,30.75 241.06,30 246.04,20.5 251.02,27 256,39.25 260.98,49.75 265.97,52.25 270.95,71.75 275.93,99.75"/>
<circle class="pt" cx="71.67" cy="17.25" r="2.9"/>
<circle class="pt" cx="76.65" cy="16.5" r="2.9"/>
<circle class="pt" cx="81.63" cy="21.25" r="2.9"/>
<circle class="pt" cx="86.62" cy="47" r="2.9"/>
<circle class="pt" cx="91.6" cy="49.75" r="2.9"/>
<circle class="pt" cx="96.58" cy="44.25" r="2.9"/>
<circle class="pt" cx="101.56" cy="49.75" r="2.9"/>
<circle class="pt" cx="106.54" cy="47.75" r="2.9"/>
<circle class="pt" cx="111.53" cy="44" r="2.9"/>
<circle class="pt" cx="116.51" cy="33" r="2.9"/>
<circle class="pt" cx="121.49" cy="18" r="2.9"/>
<circle class="pt" cx="126.47" cy="47" r="2.9"/>
<circle class="pt" cx="131.45" cy="43.25" r="2.9"/>
<circle class="pt" cx="136.44" cy="56.5" r="2.9"/>
<circle class="pt" cx="141.42" cy="74.5" r="2.9"/>
<circle class="pt" cx="146.4" cy="64.25" r="2.9"/>
<circle class="pt" cx="151.38" cy="77" r="2.9"/>
<circle class="pt" cx="156.36" cy="112" r="2.9"/>
<circle class="pt" cx="161.35" cy="71" r="2.9"/>
<circle class="pt" cx="166.33" cy="72" r="2.9"/>
<circle class="pt" cx="171.31" cy="86" r="2.9"/>
<circle class="pt" cx="176.29" cy="228" r="2.9"/>
<circle class="pt" cx="181.27" cy="77.5" r="2.9"/>
<circle class="pt" cx="186.25" cy="101.75" r="2.9"/>
<circle class="pt" cx="191.24" cy="100.5" r="2.9"/>
<circle class="pt" cx="196.22" cy="52.75" r="2.9"/>
<circle class="pt" cx="201.2" cy="62.75" r="2.9"/>
<circle class="pt" cx="206.18" cy="94.5" r="2.9"/>
<circle class="pt" cx="211.16" cy="122.75" r="2.9"/>
<circle class="pt" cx="216.15" cy="59.75" r="2.9"/>
<circle class="pt" cx="221.13" cy="58.5" r="2.9"/>
<circle class="pt" cx="226.11" cy="58.25" r="2.9"/>
<circle class="pt" cx="231.09" cy="45.75" r="2.9"/>
<circle class="pt" cx="236.07" cy="54.5" r="2.9"/>
<circle class="pt" cx="241.06" cy="53.75" r="2.9"/>
<circle class="pt" cx="246.04" cy="44.25" r="2.9"/>
<circle class="pt" cx="251.02" cy="50.75" r="2.9"/>
<circle class="pt" cx="256" cy="63" r="2.9"/>
<circle class="pt" cx="260.98" cy="73.5" r="2.9"/>
<circle class="pt" cx="265.97" cy="76" r="2.9"/>
<circle class="pt" cx="270.95" cy="95.5" r="2.9"/>
<circle class="pt" cx="275.93" cy="124.25" r="2.9"/>
</g>
</g>
<g transform="translate(900 600)">
<rect class="ln" x="63.5" y="7.85" width="220.6" height="228.55"/>
<path class="ln" d="M97.83 236.4H247.28M97.83 236.4v7.75M147.64 236.4v7.75M197.46 236.4v7.75M247.28 236.4v7.75M63.5 14.5V213.5M63.5 14.5h-7.75M63.5 64.25h-7.75M63.5 114h-7.75M63.5 163.75h-7.75M63.5 213.5h-7.75"/>
<text class="k" x="97.83" y="264.8" text-anchor="middle">1990</text>
<text class="k" x="147.64" y="264.8" text-anchor="middle">2000</text>
<text class="k" x="197.46" y="264.8" text-anchor="middle">2010</text>
<text class="k" x="247.28" y="264.8" text-anchor="middle">2020</text>
<text class="k" transform="translate(44.1 14.5) rotate(-90)" text-anchor="middle">2</text>
<text class="k" transform="translate(44.1 64.25) rotate(-90)" text-anchor="middle">0</text>
<text class="k" transform="translate(44.1 114) rotate(-90)" text-anchor="middle">-2</text>
<text class="k" transform="translate(44.1 163.75) rotate(-90)" text-anchor="middle">-4</text>
<text class="k" transform="translate(44.1 213.5) rotate(-90)" text-anchor="middle">-6</text>
<text class="x" x="173.8" y="296.7" text-anchor="middle">time</text>
<text transform="translate(13 122.12) rotate(-90)" text-anchor="middle">logF</text>
<text class="t" x="173.8" y="9.9" text-anchor="middle" clip-path="url(#fc)">age 2 q4</text>
<g clip-path="url(#pc)">
<path class="ln" d="M171.55 75.75L176.05 220.25M176.51 220.25L181.05 59.5M181.7 59.49L185.83 135.26M186.91 135.28L190.58 91.97M207.16 80.06L210.19 56.19M262.43 60.36L264.52 71.39"/>
<polyline class="da" points="71.67,35.75 76.65,36.75 81.63,37.25 86.62,36.5 91.6,41.75 96.58,41.25 101.56,58.5 106.54,58.5 111.53,53.25 116.51,49.75 121.49,54 126.47,64 131.45,79.25 136.44,82 141.42,84.25 146.4,83.5 151.38,82.25 156.36,90 161.35,78.75 166.33,92.5 171.31,93.75 176.29,260.5 181.27,96.75 186.25,173.75 191.24,110 196.22,114 201.2,106.5 206.18,113.5 211.16,74.25 216.15,63.75 221.13,73.25 226.11,74.5 231.09,71.25 236.07,73.25 241.06,70.75 246.04,69 251.02,66.5 256,71.75 260.98,78.5 265.97,104.75 270.95,113.5 275.93,131.75"/>
<polyline class="da" points="71.67,-2.75 76.65,-1.75 81.63,-1.25 86.62,-2 91.6,3.25 96.58,2.75 101.56,11 106.54,11 111.53,5.75 116.51,2.25 121.49,6.5 126.47,16.5 131.45,27.75 136.44,30.5 141.42,32.75 146.4,32 151.38,30.75 156.36,38.5 161.35,27.25 166.33,41 171.31,42.25 176.29,195.5 181.27,6.75 186.25,112.25 191.24,58.5 196.22,62.5 201.2,55 206.18,62 211.16,22.75 216.15,12.25 221.13,21.75 226.11,23 231.09,19.75 236.07,21.75 241.06,19.25 246.04,17.5 251.02,15 256,20.25 260.98,27 265.97,53.25 270.95,62 275.93,44.25"/>
<circle class="pt" cx="71.67" cy="16.5" r="2.9"/>
<circle class="pt" cx="76.65" cy="17.5" r="2.9"/>
<circle class="pt" cx="81.63" cy="18" r="2.9"/>
<circle class="pt" cx="86.62" cy="17.25" r="2.9"/>
<circle class="pt" cx="91.6" cy="22.5" r="2.9"/>
<circle class="pt" cx="96.58" cy="22" r="2.9"/>
<circle class="pt" cx="101.56" cy="34.75" r="2.9"/>
<circle class="pt" cx="106.54" cy="34.75" r="2.9"/>
<circle class="pt" cx="111.53" cy="29.5" r="2.9"/>
<circle class="pt" cx="116.51" cy="26" r="2.9"/>
<circle class="pt" cx="121.49" cy="30.25" r="2.9"/>
<circle class="pt" cx="126.47" cy="40.25" r="2.9"/>
<circle class="pt" cx="131.45" cy="53.5" r="2.9"/>
<circle class="pt" cx="136.44" cy="56.25" r="2.9"/>
<circle class="pt" cx="141.42" cy="58.5" r="2.9"/>
<circle class="pt" cx="146.4" cy="57.75" r="2.9"/>
<circle class="pt" cx="151.38" cy="56.5" r="2.9"/>
<circle class="pt" cx="156.36" cy="64.25" r="2.9"/>
<circle class="pt" cx="161.35" cy="53" r="2.9"/>
<circle class="pt" cx="166.33" cy="66.75" r="2.9"/>
<circle class="pt" cx="171.31" cy="68" r="2.9"/>
<circle class="pt" cx="176.29" cy="228" r="2.9"/>
<circle class="pt" cx="181.27" cy="51.75" r="2.9"/>
<circle class="pt" cx="186.25" cy="143" r="2.9"/>
<circle class="pt" cx="191.24" cy="84.25" r="2.9"/>
<circle class="pt" cx="196.22" cy="88.25" r="2.9"/>
<circle class="pt" cx="201.2" cy="80.75" r="2.9"/>
<circle class="pt" cx="206.18" cy="87.75" r="2.9"/>
<circle class="pt" cx="211.16" cy="48.5" r="2.9"/>
<circle class="pt" cx="216.15" cy="38" r="2.9"/>
<circle class="pt" cx="221.13" cy="47.5" r="2.9"/>
<circle class="pt" cx="226.11" cy="48.75" r="2.9"/>
<circle class="pt" cx="231.09" cy="45.5" r="2.9"/>
<circle class="pt" cx="236.07" cy="47.5" r="2.9"/>
<circle class="pt" cx="241.06" cy="45" r="2.9"/>
<circle class="pt" cx="246.04" cy="43.25" r="2.9"/>
<circle class="pt" cx="251.02" cy="40.75" r="2.9"/>
<circle class="pt" cx="256" cy="46" r="2.9"/>
<circle class="pt" cx="260.98" cy="52.75" r="2.9"/>
<circle class="pt" cx="265.97" cy="79" r="2.9"/>
<circle class="pt" cx="270.95" cy="87.75" r="2.9"/>
<circle class="pt" cx="275.93" cy="88" r="2.9"/>
</g>
</g>
<g transform="translate(0 900)">
<rect class="ln" x="63.5" y="7.85" width="220.6" height="228.55"/>
<path class="ln" d="M101.56 236.4H251.02M101.56 236.4v7.75M151.38 236.4v7.75M201.2 236.4v7.75M251.02 236.4v7.75M63.5 37V235.25M63.5 37h-7.75M63.5 103h-7.75M63.5 169.25h-7.75M63.5 235.25h-7.75"/>
<text class="k" x="101.56" y="264.8" text-anchor="middle">1990</text>
<text class="k" x="151.38" y="264.8" text-anchor="middle">2000</text>
<text class="k" x="201.2" y="264.8" text-anchor="middle">2010</text>
<text class="k" x="251.02" y="264.8" text-anchor="middle">2020</text>
<text class="k" transform="translate(44.1 37) rotate(-90)" text-anchor="middle">0</text>
<text class="k" transform="translate(44.1 103) rotate(-90)" text-anchor="middle">-5</text>
<text class="k" transform="translate(44.1 169.25) rotate(-90)" text-anchor="middle">-10</text>
<text class="k" transform="translate(44.1 235.25) rotate(-90)" text-anchor="middle">-15</text>
<text class="x" x="173.8" y="296.7" text-anchor="middle">time</text>
<text transform="translate(13 122.12) rotate(-90)" text-anchor="middle">logF</text>
<text class="t" x="173.8" y="9.9" text-anchor="middle" clip-path="url(#fc)">age 3 q1</text>
<g clip-path="url(#pc)">
<path class="ln" d="M171.85 65.98L175.75 121.27M177.09 121.29L180.48 88.46M188.43 101.69L189.06 103.81M201.61 141.49L205.77 220.26M206.52 220.26L210.82 122.74M217.68 99.65L219.6 90.1M243.5 76.9L243.6 76.6M258.04 71.98L258.94 75.27M266.48 88.98L270.44 149.02M272.72 149.2L274.16 143.05"/>
<polyline class="da" points="71.67,34.5 76.65,29 81.63,30.25 86.62,30 91.6,32.5 96.58,43.25 101.56,35 106.54,34.25 111.53,34.25 116.51,41.25 121.49,37.5 126.47,45 131.45,51.25 136.44,55 141.42,56.25 146.4,61 151.38,65.75 156.36,61.5 161.35,60.5 166.33,66.5 171.31,70.75 176.29,150 181.27,97.75 186.25,109.25 191.24,126.25 196.22,137.75 201.2,148.75 206.18,400.5 211.16,131.25 216.15,121.5 221.13,96.75 226.11,93.75 231.09,94 236.07,106.75 241.06,98.5 246.04,83.5 251.02,72 256,78.75 260.98,97 265.97,95.5 270.95,180 275.93,157.5"/>
<polyline class="da" points="71.67,9.5 76.65,4 81.63,5.25 86.62,5 91.6,7.5 96.58,18.25 101.56,10 106.54,9.25 111.53,9.25 116.51,16.25 121.49,12.5 126.47,20 131.45,26.25 136.44,30 141.42,31.25 146.4,36 151.38,40.75 156.36,36.5 161.35,35.5 166.33,41.5 171.31,45.75 176.29,108 181.27,63.75 186.25,79.25 191.24,96.25 196.22,107.75 201.2,118.75 206.18,55.5 211.16,98.75 216.15,93 221.13,68.25 226.11,65.25 231.09,65.5 236.07,78.25 241.06,70 246.04,55 251.02,43.5 256,50.25 260.98,68.5 265.97,67 270.95,133.5 275.93,113.5"/>
<circle class="pt" cx="71.67" cy="22" r="2.9"/>
<circle class="pt" cx="76.65" cy="16.5" r="2.9"/>
<circle class="pt" cx="81.63" cy="17.75" r="2.9"/>
<circle class="pt" cx="86.62" cy="17.5" r="2.9"/>
<circle class="pt" cx="91.6" cy="20" r="2.9"/>
<circle class="pt" cx="96.58" cy="30.75" r="2.9"/>
<circle class="pt" cx="101.56" cy="22.5" r="2.9"/>
<circle class="pt" cx="106.54" cy="21.75" r="2.9"/>
<circle class="pt" cx="111.53" cy="21.75" r="2.9"/>
<circle class="pt" cx="116.51" cy="28.75" r="2.9"/>
<circle class="pt" cx="121.49" cy="25" r="2.9"/>
<circle class="pt" cx="126.47" cy="32.5" r="2.9"/>
<circle class="pt" cx="131.45" cy="38.75" r="2.9"/>
<circle class="pt" cx="136.44" cy="42.5" r="2.9"/>
<circle class="pt" cx="141.42" cy="43.75" r="2.9"/>
<circle class="pt" cx="146.4" cy="48.5" r="2.9"/>
<circle class="pt" cx="151.38" cy="53.25" r="2.9"/>
<circle class="pt" cx="156.36" cy="49" r="2.9"/>
<circle class="pt" cx="161.35" cy="48" r="2.9"/>
<circle class="pt" cx="166.33" cy="54" r="2.9"/>
<circle class="pt" cx="171.31" cy="58.25" r="2.9"/>
<circle class="pt" cx="176.29" cy="129" r="2.9"/>
<circle class="pt" cx="181.27" cy="80.75" r="2.9"/>
<circle class="pt" cx="186.25" cy="94.25" r="2.9"/>
<circle class="pt" cx="191.24" cy="111.25" r="2.9"/>
<circle class="pt" cx="196.22" cy="122.75" r="2.9"/>
<circle class="pt" cx="201.2" cy="133.75" r="2.9"/>
<circle class="pt" cx="206.18" cy="228" r="2.9"/>
<circle class="pt" cx="211.16" cy="115" r="2.9"/>
<circle class="pt" cx="216.15" cy="107.25" r="2.9"/>
<circle class="pt" cx="221.13" cy="82.5" r="2.9"/>
<circle class="pt" cx="226.11" cy="79.5" r="2.9"/>
<circle class="pt" cx="231.09" cy="79.75" r="2.9"/>
<circle class="pt" cx="236.07" cy="92.5" r="2.9"/>
<circle class="pt" cx="241.06" cy="84.25" r="2.9"/>
<circle class="pt" cx="246.04" cy="69.25" r="2.9"/>
<circle class="pt" cx="251.02" cy="57.75" r="2.9"/>
<circle class="pt" cx="256" cy="64.5" r="2.9"/>
<circle class="pt" cx="260.98" cy="82.75" r="2.9"/>
<circle class="pt" cx="265.97" cy="81.25" r="2.9"/>
<circle class="pt" cx="270.95" cy="156.75" r="2.9"/>
<circle class="pt" cx="275.93" cy="135.5" r="2.9"/>
</g>
</g>
<g transform="translate(300 900)">
<rect class="ln" x="63.5" y="7.85" width="220.6" height="228.55"/>
<path class="ln" d="M100.32 236.4H249.77M100.32 236.4v7.75M150.14 236.4v7.75M199.96 236.4v7.75M249.77 236.4v7.75M63.5 8V219.75M63.5 8h-7.75M63.5 61h-7.75M63.5 113.75h-7.75M63.5 166.75h-7.75M63.5 219.75h-7.75"/>
<text class="k" x="100.32" y="264.8" text-anchor="middle">1990</text>
<text class="k" x="150.14" y="264.8" text-anchor="middle">2000</text>
<text class="k" x="199.96" y="264.8" text-anchor="middle">2010</text>
<text class="k" x="249.77" y="264.8" text-anchor="middle">2020</text>
<text class="k" transform="translate(44.1 8) rotate(-90)" text-anchor="middle">2</text>
<text class="k" transform="translate(44.1 61) rotate(-90)" text-anchor="middle">0</text>
<text class="k" transform="translate(44.1 113.75) rotate(-90)" text-anchor="middle">-2</text>
<text class="k" transform="translate(44.1 166.75) rotate(-90)" text-anchor="middle">-4</text>
<text class="k" transform="translate(44.1 219.75) rotate(-90)" text-anchor="middle">-6</text>
<text class="x" x="173.8" y="296.7" text-anchor="middle">time</text>
<text transform="translate(13 122.12) rotate(-90)" text-anchor="middle">logF</text>
<text class="t" x="173.8" y="9.9" text-anchor="middle" clip-path="url(#fc)">age 3 q2</text>
<g clip-path="url(#pc)">
<path class="ln" d="M93.69 41.54L94.49 38.71M99.06 23.91L99.08 23.84M128.15 34.82L129.78 42.18M133.47 57.23L134.42 60.77M167.87 88.09L169.76 97.41M171.62 112.74L175.98 220.26M176.6 220.26L180.97 109.49M183.54 109.16L183.98 110.59M197 106.79L200.42 72.96M201.52 72.99L205.86 177.76M208.39 178.07L208.96 176.18M211.63 161.01L215.68 94.24M242.89 66.47L244.21 61.03M258.1 80.46L258.89 83.29M266.83 100.2L270.08 129.05M272.59 129.18L274.29 121.32"/>
<polyline class="da" points="71.67,43.25 76.65,57.5 81.63,65.75 86.62,74.25 91.6,74.75 96.58,57 101.56,42.25 106.54,51 111.53,52 116.51,54.75 121.49,56.5 126.47,53 131.45,75.5 136.44,94 141.42,82 146.4,78.25 151.38,89.25 156.36,95 161.35,100.25 166.33,106.25 171.31,130.75 176.29,265.5 181.27,138.75 186.25,155 191.24,153.75 196.22,151.5 201.2,107.75 206.18,226.25 211.16,208.75 216.15,117 221.13,125.25 226.11,121 231.09,109.25 236.07,118.5 241.06,104.5 246.04,84 251.02,96.25 256,103.5 260.98,121.25 265.97,123 270.95,180.5 275.93,159.25"/>
<polyline class="da" points="71.67,-8.25 76.65,6 81.63,14.25 86.62,22.75 91.6,23.25 96.58,5.5 101.56,-9.25 106.54,-0.5 111.53,0.5 116.51,3.25 121.49,5 126.47,1.5 131.45,24 136.44,42.5 141.42,30.5 146.4,26.75 151.38,37.75 156.36,43.5 161.35,48.75 166.33,54.75 171.31,79.25 176.29,190.5 181.27,64.75 186.25,81 191.24,79.75 196.22,77.5 201.2,22.75 206.18,144.75 211.16,128.75 216.15,56 221.13,64.25 226.11,60 231.09,48.25 236.07,57.5 241.06,43.5 246.04,23 251.02,35.25 256,42.5 260.98,60.25 265.97,62 270.95,93 275.93,68.25"/>
<circle class="pt" cx="71.67" cy="17.5" r="2.9"/>
<circle class="pt" cx="76.65" cy="31.75" r="2.9"/>
<circle class="pt" cx="81.63" cy="40" r="2.9"/>
<circle class="pt" cx="86.62" cy="48.5" r="2.9"/>
<circle class="pt" cx="91.6" cy="49" r="2.9"/>
<circle class="pt" cx="96.58" cy="31.25" r="2.9"/>
<circle class="pt" cx="101.56" cy="16.5" r="2.9"/>
<circle class="pt" cx="106.54" cy="25.25" r="2.9"/>
<circle class="pt" cx="111.53" cy="26.25" r="2.9"/>
<circle class="pt" cx="116.51" cy="29" r="2.9"/>
<circle class="pt" cx="121.49" cy="30.75" r="2.9"/>
<circle class="pt" cx="126.47" cy="27.25" r="2.9"/>
<circle class="pt" cx="131.45" cy="49.75" r="2.9"/>
<circle class="pt" cx="136.44" cy="68.25" r="2.9"/>
<circle class="pt" cx="141.42" cy="56.25" r="2.9"/>
<circle class="pt" cx="146.4" cy="52.5" r="2.9"/>
<circle class="pt" cx="151.38" cy="63.5" r="2.9"/>
<circle class="pt" cx="156.36" cy="69.25" r="2.9"/>
<circle class="pt" cx="161.35" cy="74.5" r="2.9"/>
<circle class="pt" cx="166.33" cy="80.5" r="2.9"/>
<circle class="pt" cx="171.31" cy="105" r="2.9"/>
<circle class="pt" cx="176.29" cy="228" r="2.9"/>
<circle class="pt" cx="181.27" cy="101.75" r="2.9"/>
<circle class="pt" cx="186.25" cy="118" r="2.9"/>
<circle class="pt" cx="191.24" cy="116.75" r="2.9"/>
<circle class="pt" cx="196.22" cy="114.5" r="2.9"/>
<circle class="pt" cx="201.2" cy="65.25" r="2.9"/>
<circle class="pt" cx="206.18" cy="185.5" r="2.9"/>
<circle class="pt" cx="211.16" cy="168.75" r="2.9"/>
<circle class="pt" cx="216.15" cy="86.5" r="2.9"/>
<circle class="pt" cx="221.13" cy="94.75" r="2.9"/>
<circle class="pt" cx="226.11" cy="90.5" r="2.9"/>
<circle class="pt" cx="231.09" cy="78.75" r="2.9"/>
<circle class="pt" cx="236.07" cy="88" r="2.9"/>
<circle class="pt" cx="241.06" cy="74" r="2.9"/>
<circle class="pt" cx="246.04" cy="53.5" r="2.9"/>
<circle class="pt" cx="251.02" cy="65.75" r="2.9"/>
<circle class="pt" cx="256" cy="73" r="2.9"/>
<circle class="pt" cx="260.98" cy="90.75" r="2.9"/>
<circle class="pt" cx="265.97" cy="92.5" r="2.9"/>
<circle class="pt" cx="270.95" cy="136.75" r="2.9"/>
<circle class="pt" cx="275.93" cy="113.75" r="2.9"/>
</g>
</g>
<g transform="translate(600 900)">
<rect class="ln" x="63.5" y="7.85" width="220.6" height="228.55"/>
<path class="ln" d="M99.07 236.4H248.53M99.07 236.4v7.75M148.89 236.4v7.75M198.71 236.4v7.75M248.53 236.4v7.75M63.5 41.75V235.75M63.5 41.75h-7.75M63.5 90h-7.75M63.5 138.75h-7.75M63.5 187.25h-7.75M63.5 235.75h-7.75"/>
<text class="k" x="99.07" y="264.8" text-anchor="middle">1990</text>
<text class="k" x="148.89" y="264.8" text-anchor="middle">2000</text>
<text class="k" x="198.71" y="264.8" text-anchor="middle">2010</text>
<text class="k" x="248.53" y="264.8" text-anchor="middle">2020</text>
<text class="k" transform="translate(44.1 41.75) rotate(-90)" text-anchor="middle">2</text>
<text class="k" transform="translate(44.1 90) rotate(-90)" text-anchor="middle">0</text>
<text class="k" transform="translate(44.1 138.75) rotate(-90)" text-anchor="middle">-2</text>
<text class="k" transform="translate(44.1 187.25) rotate(-90)" text-anchor="middle">-4</text>
<text class="k" transform="translate(44.1 235.75) rotate(-90)" text-anchor="middle">-6</text>
<text class="x" x="173.8" y="296.7" text-anchor="middle">time</text>
<text transform="translate(13 122.12) rotate(-90)" text-anchor="middle">logF</text>
<text class="t" x="173.8" y="9.9" text-anchor="middle" clip-path="url(#fc)">age 3 q3</text>
<g clip-path="url(#pc)">
<path class="ln" d="M83.18 28.59L85.07 37.91M122.86 25.38L125.1 37.87M138.56 61.7L139.3 64.3M152.53 81.66L155.21 99.59M157.35 99.56L160.36 75.94M171.57 90.25L176.03 220.25M176.66 220.26L180.9 131.99M182.91 131.82L184.61 139.68M192.09 138.55L195.37 108.95M202.47 118.15L204.91 132.85M207.6 148.12L209.75 159.63M211.62 159.51L215.69 91.24M267.98 106.23L268.93 109.77M272.35 124.87L274.52 136.63"/>
<polyline class="da" points="71.67,32.5 76.65,31.75 81.63,39.75 86.62,64.25 91.6,66.5 96.58,61.5 101.56,66.5 106.54,64.75 111.53,61.25 116.51,51 121.49,36.5 126.47,64.25 131.45,65 136.44,77.5 141.42,95 146.4,85 151.38,97.25 156.36,130.5 161.35,91.5 166.33,92.5 171.31,105.75 176.29,253 181.27,149.75 186.25,172.75 191.24,171.75 196.22,126.75 201.2,136 206.18,166 211.16,192.75 216.15,107 221.13,105.5 226.11,105.25 231.09,93.75 236.07,102 241.06,101.25 246.04,92 251.02,98.25 256,110 260.98,120 265.97,122.25 270.95,140.75 275.93,168.75"/>
<polyline class="da" points="71.67,2 76.65,1.25 81.63,2.25 86.62,26.75 91.6,29 96.58,24 101.56,29 106.54,27.25 111.53,23.75 116.51,13.5 121.49,-1 126.47,26.75 131.45,18.5 136.44,31 141.42,48.5 146.4,38.5 151.38,50.75 156.36,84 161.35,45 166.33,46 171.31,59.25 176.29,203 181.27,98.75 186.25,121.75 191.24,120.75 196.22,75.75 201.2,85 206.18,115 211.16,141.75 216.15,60 221.13,58.5 226.11,58.25 231.09,46.75 236.07,55 241.06,54.25 246.04,45 251.02,51.25 256,63 260.98,73 265.97,75.25 270.95,93.75 275.93,119.75"/>
<circle class="pt" cx="71.67" cy="17.25" r="2.9"/>
<circle class="pt" cx="76.65" cy="16.5" r="2.9"/>
<circle class="pt" cx="81.63" cy="21" r="2.9"/>
<circle class="pt" cx="86.62" cy="45.5" r="2.9"/>
<circle class="pt" cx="91.6" cy="47.75" r="2.9"/>
<circle class="pt" cx="96.58" cy="42.75" r="2.9"/>
<circle class="pt" cx="101.56" cy="47.75" r="2.9"/>
<circle class="pt" cx="106.54" cy="46" r="2.9"/>
<circle class="pt" cx="111.53" cy="42.5" r="2.9"/>
<circle class="pt" cx="116.51" cy="32.25" r="2.9"/>
<circle class="pt" cx="121.49" cy="17.75" r="2.9"/>
<circle class="pt" cx="126.47" cy="45.5" r="2.9"/>
<circle class="pt" cx="131.45" cy="41.75" r="2.9"/>
<circle class="pt" cx="136.44" cy="54.25" r="2.9"/>
<circle class="pt" cx="141.42" cy="71.75" r="2.9"/>
<circle class="pt" cx="146.4" cy="61.75" r="2.9"/>
<circle class="pt" cx="151.38" cy="74" r="2.9"/>
<circle class="pt" cx="156.36" cy="107.25" r="2.9"/>
<circle class="pt" cx="161.35" cy="68.25" r="2.9"/>
<circle class="pt" cx="166.33" cy="69.25" r="2.9"/>
<circle class="pt" cx="171.31" cy="82.5" r="2.9"/>
<circle class="pt" cx="176.29" cy="228" r="2.9"/>
<circle class="pt" cx="181.27" cy="124.25" r="2.9"/>
<circle class="pt" cx="186.25" cy="147.25" r="2.9"/>
<circle class="pt" cx="191.24" cy="146.25" r="2.9"/>
<circle class="pt" cx="196.22" cy="101.25" r="2.9"/>
<circle class="pt" cx="201.2" cy="110.5" r="2.9"/>
<circle class="pt" cx="206.18" cy="140.5" r="2.9"/>
<circle class="pt" cx="211.16" cy="167.25" r="2.9"/>
<circle class="pt" cx="216.15" cy="83.5" r="2.9"/>
<circle class="pt" cx="221.13" cy="82" r="2.9"/>
<circle class="pt" cx="226.11" cy="81.75" r="2.9"/>
<circle class="pt" cx="231.09" cy="70.25" r="2.9"/>
<circle class="pt" cx="236.07" cy="78.5" r="2.9"/>
<circle class="pt" cx="241.06" cy="77.75" r="2.9"/>
<circle class="pt" cx="246.04" cy="68.5" r="2.9"/>
<circle class="pt" cx="251.02" cy="74.75" r="2.9"/>
<circle class="pt" cx="256" cy="86.5" r="2.9"/>
<circle class="pt" cx="260.98" cy="96.5" r="2.9"/>
<circle class="pt" cx="265.97" cy="98.75" r="2.9"/>
<circle class="pt" cx="270.95" cy="117.25" r="2.9"/>
<circle class="pt" cx="275.93" cy="144.25" r="2.9"/>
</g>
</g>
<g transform="translate(900 900)">
<rect class="ln" x="63.5" y="7.85" width="220.6" height="228.55"/>
<path class="ln" d="M97.83 236.4H247.28M97.83 236.4v7.75M147.64 236.4v7.75M197.46 236.4v7.75M247.28 236.4v7.75M63.5 27V217.5M63.5 27h-7.75M63.5 74.75h-7.75M63.5 122.25h-7.75M63.5 170h-7.75M63.5 217.5h-7.75"/>
<text class="k" x="97.83" y="264.8" text-anchor="middle">1990</text>
<text class="k" x="147.64" y="264.8" text-anchor="middle">2000</text>
<text class="k" x="197.46" y="264.8" text-anchor="middle">2010</text>
<text class="k" x="247.28" y="264.8" text-anchor="middle">2020</text>
<text class="k" transform="translate(44.1 27) rotate(-90)" text-anchor="middle">2</text>
<text class="k" transform="translate(44.1 74.75) rotate(-90)" text-anchor="middle">0</text>
<text class="k" transform="translate(44.1 122.25) rotate(-90)" text-anchor="middle">-2</text>
<text class="k" transform="translate(44.1 170) rotate(-90)" text-anchor="middle">-4</text>
<text class="k" transform="translate(44.1 217.5) rotate(-90)" text-anchor="middle">-6</text>
<text class="x" x="173.8" y="296.7" text-anchor="middle">time</text>
<text transform="translate(13 122.12) rotate(-90)" text-anchor="middle">logF</text>
<text class="t" x="173.8" y="9.9" text-anchor="middle" clip-path="url(#fc)">age 3 q4</text>
<g clip-path="url(#pc)">
<path class="ln" d="M171.55 73.25L176.05 220.25M176.56 220.25L181.01 91M181.68 90.99L185.85 170.76M187.58 170.86L189.91 157.39M207.21 144.82L210.14 122.93M262.5 126.85L264.45 136.65"/>
<polyline class="da" points="71.67,58.5 76.65,58.75 81.63,59.25 86.62,56.75 91.6,61 96.58,62 101.56,73.5 106.54,73.75 111.53,70.25 116.51,69.25 121.49,72.75 126.47,83 131.45,96.75 136.44,98 141.42,98.75 146.4,97.75 151.38,96.5 156.36,104.5 161.35,92.5 166.33,105.5 171.31,108 176.29,278 181.27,135.25 186.25,222.5 191.24,179.75 196.22,183 201.2,176.25 206.18,182.5 211.16,144.75 216.15,134.5 221.13,144 226.11,145 231.09,142 236.07,143.75 241.06,141.25 246.04,139.75 251.02,137.5 256,142.25 260.98,148.75 265.97,173.75 270.95,182 275.93,198.5"/>
<polyline class="da" points="71.67,-25.5 76.65,-23.75 81.63,-23.75 86.62,-22.75 91.6,-17.5 96.58,-19 101.56,-6 106.54,-6.25 111.53,-12.75 116.51,-18.25 121.49,-14.25 126.47,-5 131.45,6.75 136.44,10.5 141.42,14.75 146.4,13.25 151.38,11.5 156.36,19 161.35,10 166.33,23.5 171.31,23 176.29,178 181.27,31.25 186.25,134.5 191.24,119.75 196.22,123 201.2,116.25 206.18,122.5 211.16,85.75 216.15,75.5 221.13,85 226.11,86 231.09,83 236.07,84.75 241.06,82.25 246.04,80.75 251.02,78.5 256,83.25 260.98,89.75 265.97,114.75 270.95,123 275.93,107"/>
<circle class="pt" cx="71.67" cy="16.5" r="2.9"/>
<circle class="pt" cx="76.65" cy="17.5" r="2.9"/>
<circle class="pt" cx="81.63" cy="17.75" r="2.9"/>
<circle class="pt" cx="86.62" cy="17" r="2.9"/>
<circle class="pt" cx="91.6" cy="21.75" r="2.9"/>
<circle class="pt" cx="96.58" cy="21.5" r="2.9"/>
<circle class="pt" cx="101.56" cy="33.75" r="2.9"/>
<circle class="pt" cx="106.54" cy="33.75" r="2.9"/>
<circle class="pt" cx="111.53" cy="28.75" r="2.9"/>
<circle class="pt" cx="116.51" cy="25.5" r="2.9"/>
<circle class="pt" cx="121.49" cy="29.25" r="2.9"/>
<circle class="pt" cx="126.47" cy="39" r="2.9"/>
<circle class="pt" cx="131.45" cy="51.75" r="2.9"/>
<circle class="pt" cx="136.44" cy="54.25" r="2.9"/>
<circle class="pt" cx="141.42" cy="56.75" r="2.9"/>
<circle class="pt" cx="146.4" cy="55.5" r="2.9"/>
<circle class="pt" cx="151.38" cy="54" r="2.9"/>
<circle class="pt" cx="156.36" cy="61.75" r="2.9"/>
<circle class="pt" cx="161.35" cy="51.25" r="2.9"/>
<circle class="pt" cx="166.33" cy="64.5" r="2.9"/>
<circle class="pt" cx="171.31" cy="65.5" r="2.9"/>
<circle class="pt" cx="176.29" cy="228" r="2.9"/>
<circle class="pt" cx="181.27" cy="83.25" r="2.9"/>
<circle class="pt" cx="186.25" cy="178.5" r="2.9"/>
<circle class="pt" cx="191.24" cy="149.75" r="2.9"/>
<circle class="pt" cx="196.22" cy="153" r="2.9"/>
<circle class="pt" cx="201.2" cy="146.25" r="2.9"/>
<circle class="pt" cx="206.18" cy="152.5" r="2.9"/>
<circle class="pt" cx="211.16" cy="115.25" r="2.9"/>
<circle class="pt" cx="216.15" cy="105" r="2.9"/>
<circle class="pt" cx="221.13" cy="114.5" r="2.9"/>
<circle class="pt" cx="226.11" cy="115.5" r="2.9"/>
<circle class="pt" cx="231.09" cy="112.5" r="2.9"/>
<circle class="pt" cx="236.07" cy="114.25" r="2.9"/>
<circle class="pt" cx="241.06" cy="111.75" r="2.9"/>
<circle class="pt" cx="246.04" cy="110.25" r="2.9"/>
<circle class="pt" cx="251.02" cy="108" r="2.9"/>
<circle class="pt" cx="256" cy="112.75" r="2.9"/>
<circle class="pt" cx="260.98" cy="119.25" r="2.9"/>
<circle class="pt" cx="265.97" cy="144.25" r="2.9"/>
<circle class="pt" cx="270.95" cy="152.5" r="2.9"/>
<circle class="pt" cx="275.93" cy="152.75" r="2.9"/>
</g>
</g>
</svg></body></html>
